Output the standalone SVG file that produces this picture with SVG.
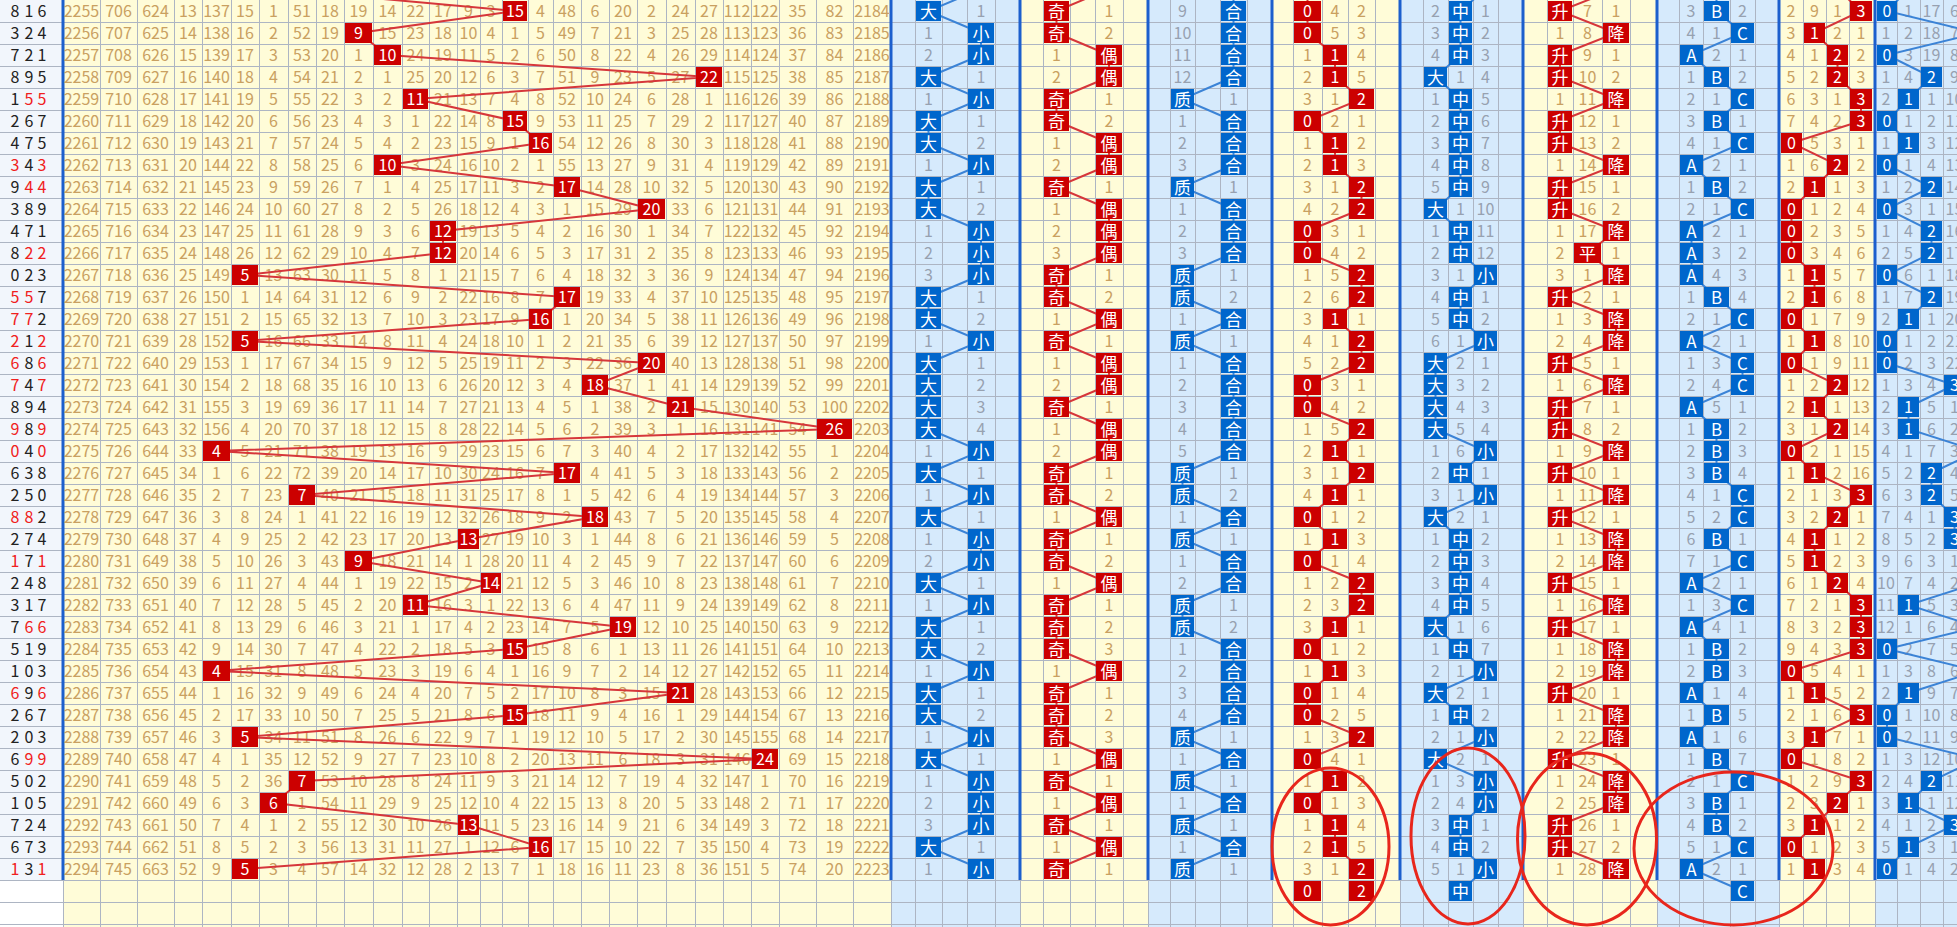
<svg xmlns="http://www.w3.org/2000/svg" width="1957" height="927" viewBox="0 0 1957 927">
<style>
.f{font-family:"Noto Sans CJK SC","Noto Sans",sans-serif;font-size:16px;text-anchor:middle}
.tn{fill:#c9a061}
.gy{fill:#97a1b0}
.k{fill:#222}
.rd{fill:#f02020}
.rl{fill:none;stroke:#d6363a;stroke-width:2}
.bl{fill:none;stroke:#3b83d6;stroke-width:2}
.gl{fill:none;stroke:#adb5c3;stroke-width:1}
.sp{fill:none;stroke:#1c5fcd;stroke-width:3}
.ci{fill:none;stroke:#e8261c;stroke-width:3}
</style>
<defs>
<g id="s4"><rect x="203" y="1" width="27" height="20" fill="#c00"/><text x="216.5" y="17">4</text></g>
<g id="s5"><rect x="232" y="1" width="26" height="20" fill="#c00"/><text x="245" y="17">5</text></g>
<g id="s6"><rect x="260" y="1" width="27" height="20" fill="#c00"/><text x="273.5" y="17">6</text></g>
<g id="s7"><rect x="289" y="1" width="26" height="20" fill="#c00"/><text x="302" y="17">7</text></g>
<g id="s9"><rect x="345" y="1" width="27" height="20" fill="#c00"/><text x="358.5" y="17">9</text></g>
<g id="s10"><rect x="374" y="1" width="27" height="20" fill="#c00"/><text x="387.5" y="17">10</text></g>
<g id="s11"><rect x="403" y="1" width="25" height="20" fill="#c00"/><text x="415.5" y="17">11</text></g>
<g id="s12"><rect x="430" y="1" width="26" height="20" fill="#c00"/><text x="443" y="17">12</text></g>
<g id="s13"><rect x="458" y="1" width="21" height="20" fill="#c00"/><text x="468.5" y="17">13</text></g>
<g id="s14"><rect x="481" y="1" width="20" height="20" fill="#c00"/><text x="491" y="17">14</text></g>
<g id="s15"><rect x="503" y="1" width="24" height="20" fill="#c00"/><text x="515" y="17">15</text></g>
<g id="s16"><rect x="529" y="1" width="23" height="20" fill="#c00"/><text x="540.5" y="17">16</text></g>
<g id="s17"><rect x="554" y="1" width="26" height="20" fill="#c00"/><text x="567" y="17">17</text></g>
<g id="s18"><rect x="582" y="1" width="26" height="20" fill="#c00"/><text x="595" y="17">18</text></g>
<g id="s19"><rect x="610" y="1" width="26" height="20" fill="#c00"/><text x="623" y="17">19</text></g>
<g id="s20"><rect x="638" y="1" width="27" height="20" fill="#c00"/><text x="651.5" y="17">20</text></g>
<g id="s21"><rect x="667" y="1" width="27" height="20" fill="#c00"/><text x="680.5" y="17">21</text></g>
<g id="s22"><rect x="696" y="1" width="26" height="20" fill="#c00"/><text x="709" y="17">22</text></g>
<g id="s24"><rect x="752" y="1" width="26" height="20" fill="#c00"/><text x="765" y="17">24</text></g>
<g id="s26"><rect x="817" y="1" width="35" height="20" fill="#c00"/><text x="834.5" y="17">26</text></g>
<g id="dD"><rect x="916" y="1" width="25" height="20" fill="#0066cc"/><text x="928.5" y="17.5" font-size="17">大</text></g>
<g id="dX"><rect x="968" y="1" width="26" height="20" fill="#0066cc"/><text x="981" y="17.5" font-size="17">小</text></g>
<g id="jJ"><rect x="1044" y="1" width="25" height="20" fill="#c00"/><text x="1056.5" y="17.5" font-size="17">奇</text></g>
<g id="jO"><rect x="1096" y="1" width="26" height="20" fill="#c00"/><text x="1109" y="17.5" font-size="17">偶</text></g>
<g id="zZ"><rect x="1171" y="1" width="23" height="20" fill="#0066cc"/><text x="1182.5" y="17.5" font-size="17">质</text></g>
<g id="zH"><rect x="1221" y="1" width="25" height="20" fill="#0066cc"/><text x="1233.5" y="17.5" font-size="17">合</text></g>
<g id="m30"><rect x="1294" y="1" width="27" height="20" fill="#c00"/><text x="1307.5" y="17">0</text></g>
<g id="m31"><rect x="1323" y="1" width="24" height="20" fill="#c00"/><text x="1335" y="17">1</text></g>
<g id="m32"><rect x="1349" y="1" width="25" height="20" fill="#c00"/><text x="1361.5" y="17">2</text></g>
<g id="qD"><rect x="1424" y="1" width="23" height="20" fill="#0066cc"/><text x="1435.5" y="17.5" font-size="17">大</text></g>
<g id="qZ"><rect x="1449" y="1" width="23" height="20" fill="#0066cc"/><text x="1460.5" y="17.5" font-size="17">中</text></g>
<g id="qX"><rect x="1474" y="1" width="23" height="20" fill="#0066cc"/><text x="1485.5" y="17.5" font-size="17">小</text></g>
<g id="pS"><rect x="1548" y="1" width="24" height="20" fill="#c00"/><text x="1560" y="17.5" font-size="17">升</text></g>
<g id="pP"><rect x="1574" y="1" width="27" height="20" fill="#c00"/><text x="1587.5" y="17.5" font-size="17">平</text></g>
<g id="pJ"><rect x="1603" y="1" width="26" height="20" fill="#c00"/><text x="1616" y="17.5" font-size="17">降</text></g>
<g id="aA"><rect x="1680" y="1" width="23" height="20" fill="#0066cc"/><text x="1691.5" y="17.5" font-size="17">A</text></g>
<g id="aB"><rect x="1704" y="1" width="25" height="20" fill="#0066cc"/><text x="1716.5" y="17.5" font-size="17">B</text></g>
<g id="aC"><rect x="1731" y="1" width="23" height="20" fill="#0066cc"/><text x="1742.5" y="17.5" font-size="17">C</text></g>
<g id="m40"><rect x="1781" y="1" width="21" height="20" fill="#c00"/><text x="1791.5" y="17">0</text></g>
<g id="m41"><rect x="1804" y="1" width="21" height="20" fill="#c00"/><text x="1814.5" y="17">1</text></g>
<g id="m42"><rect x="1827" y="1" width="21" height="20" fill="#c00"/><text x="1837.5" y="17">2</text></g>
<g id="m43"><rect x="1850" y="1" width="22" height="20" fill="#c00"/><text x="1861" y="17">3</text></g>
<g id="m50"><rect x="1877" y="1" width="20" height="20" fill="#0066cc"/><text x="1887" y="17">0</text></g>
<g id="m51"><rect x="1898" y="1" width="21" height="20" fill="#0066cc"/><text x="1908.5" y="17">1</text></g>
<g id="m52"><rect x="1921" y="1" width="21" height="20" fill="#0066cc"/><text x="1931.5" y="17">2</text></g>
<g id="m53"><rect x="1944" y="1" width="21" height="20" fill="#0066cc"/><text x="1954.5" y="17">3</text></g>
</defs>
<rect width="1957" height="927" fill="#fff"/>
<g id="background">
<rect x="0" y="0" width="63" height="880" fill="#f2f6fc"/>
<rect x="63" y="0" width="828" height="927" fill="#fffcd8"/>
<rect x="891" y="0" width="129" height="927" fill="#d6eafc"/>
<rect x="1020" y="0" width="128" height="927" fill="#fffcd8"/>
<rect x="1148" y="0" width="124" height="927" fill="#d6eafc"/>
<rect x="1272" y="0" width="128" height="927" fill="#fffcd8"/>
<rect x="1400" y="0" width="123" height="927" fill="#d6eafc"/>
<rect x="1523" y="0" width="134" height="927" fill="#fffcd8"/>
<rect x="1657" y="0" width="122" height="927" fill="#d6eafc"/>
<rect x="1779" y="0" width="96" height="927" fill="#fffcd8"/>
<rect x="1875" y="0" width="82" height="927" fill="#d6eafc"/>
</g>
<g id="grid">
<path class="gl" d="M0 22.5h1957M0 44.5h1957M0 66.5h1957M0 88.5h1957M0 110.5h1957M0 132.5h1957M0 154.5h1957M0 176.5h1957M0 198.5h1957M0 220.5h1957M0 242.5h1957M0 264.5h1957M0 286.5h1957M0 308.5h1957M0 330.5h1957M0 352.5h1957M0 374.5h1957M0 396.5h1957M0 418.5h1957M0 440.5h1957M0 462.5h1957M0 484.5h1957M0 506.5h1957M0 528.5h1957M0 550.5h1957M0 572.5h1957M0 594.5h1957M0 616.5h1957M0 638.5h1957M0 660.5h1957M0 682.5h1957M0 704.5h1957M0 726.5h1957M0 748.5h1957M0 770.5h1957M0 792.5h1957M0 814.5h1957M0 836.5h1957M0 858.5h1957M0 880.5h1957M0 902.5h1957M0 924.5h1957"/>
<path class="gl" d="M63.5 0v927M100.5 0v927M137.5 0v927M174.5 0v927M202.5 0v927M231.5 0v927M259.5 0v927M288.5 0v927M316.5 0v927M344.5 0v927M373.5 0v927M402.5 0v927M429.5 0v927M457.5 0v927M480.5 0v927M502.5 0v927M528.5 0v927M553.5 0v927M581.5 0v927M609.5 0v927M637.5 0v927M666.5 0v927M695.5 0v927M723.5 0v927M751.5 0v927M779.5 0v927M816.5 0v927M853.5 0v927M891.5 0v927M915.5 0v927M942.5 0v927M967.5 0v927M995.5 0v927M1020.5 0v927M1043.5 0v927M1070.5 0v927M1095.5 0v927M1123.5 0v927M1148.5 0v927M1170.5 0v927M1195.5 0v927M1220.5 0v927M1247.5 0v927M1272.5 0v927M1293.5 0v927M1322.5 0v927M1348.5 0v927M1375.5 0v927M1400.5 0v927M1423.5 0v927M1448.5 0v927M1473.5 0v927M1498.5 0v927M1523.5 0v927M1547.5 0v927M1573.5 0v927M1602.5 0v927M1630.5 0v927M1657.5 0v927M1679.5 0v927M1703.5 0v927M1730.5 0v927M1755.5 0v927M1779.5 0v927M1803.5 0v927M1826.5 0v927M1849.5 0v927M1875.5 0v927M1897.5 0v927M1920.5 0v927M1943.5 0v927"/>
<path class="sp" d="M63 0v880M891 0v880M1020 0v880M1148 0v880M1272 0v880M1400 0v880M1523 0v880M1657 0v880M1779 0v880M1875 0v880"/>
</g>
<g id="draws" class="f k">
<text x="15 29 42" y="17">816</text>
<text x="15 29 42" y="39">324</text>
<text x="15 29 42" y="61">721</text>
<text x="15 29 42" y="83">895</text>
<text x="15 29 42" y="105">1<tspan class="rd">55</tspan></text>
<text x="15 29 42" y="127">267</text>
<text x="15 29 42" y="149">475</text>
<text x="15 29 42" y="171"><tspan class="rd">3</tspan>4<tspan class="rd">3</tspan></text>
<text x="15 29 42" y="193">9<tspan class="rd">44</tspan></text>
<text x="15 29 42" y="215">389</text>
<text x="15 29 42" y="237">471</text>
<text x="15 29 42" y="259">8<tspan class="rd">22</tspan></text>
<text x="15 29 42" y="281">023</text>
<text x="15 29 42" y="303"><tspan class="rd">55</tspan>7</text>
<text x="15 29 42" y="325"><tspan class="rd">77</tspan>2</text>
<text x="15 29 42" y="347"><tspan class="rd">2</tspan>1<tspan class="rd">2</tspan></text>
<text x="15 29 42" y="369"><tspan class="rd">6</tspan>8<tspan class="rd">6</tspan></text>
<text x="15 29 42" y="391"><tspan class="rd">7</tspan>4<tspan class="rd">7</tspan></text>
<text x="15 29 42" y="413">894</text>
<text x="15 29 42" y="435"><tspan class="rd">9</tspan>8<tspan class="rd">9</tspan></text>
<text x="15 29 42" y="457"><tspan class="rd">0</tspan>4<tspan class="rd">0</tspan></text>
<text x="15 29 42" y="479">638</text>
<text x="15 29 42" y="501">250</text>
<text x="15 29 42" y="523"><tspan class="rd">88</tspan>2</text>
<text x="15 29 42" y="545">274</text>
<text x="15 29 42" y="567"><tspan class="rd">1</tspan>7<tspan class="rd">1</tspan></text>
<text x="15 29 42" y="589">248</text>
<text x="15 29 42" y="611">317</text>
<text x="15 29 42" y="633">7<tspan class="rd">66</tspan></text>
<text x="15 29 42" y="655">519</text>
<text x="15 29 42" y="677">103</text>
<text x="15 29 42" y="699"><tspan class="rd">6</tspan>9<tspan class="rd">6</tspan></text>
<text x="15 29 42" y="721">267</text>
<text x="15 29 42" y="743">203</text>
<text x="15 29 42" y="765">6<tspan class="rd">99</tspan></text>
<text x="15 29 42" y="787">502</text>
<text x="15 29 42" y="809">105</text>
<text x="15 29 42" y="831">724</text>
<text x="15 29 42" y="853">673</text>
<text x="15 29 42" y="875"><tspan class="rd">1</tspan>3<tspan class="rd">1</tspan></text>
</g>
<g id="omissions" class="f">
<text y="17" class="tn"><tspan x="81.5">2255</tspan><tspan x="118.5">706</tspan><tspan x="155.5">624</tspan><tspan x="188">13</tspan><tspan x="216.5">137</tspan><tspan x="245">15</tspan><tspan x="273.5">1</tspan><tspan x="302">51</tspan><tspan x="330">18</tspan><tspan x="358.5">19</tspan><tspan x="387.5">14</tspan><tspan x="415.5">22</tspan><tspan x="443">17</tspan><tspan x="468.5">9</tspan><tspan x="491">3</tspan><tspan x="540.5">4</tspan><tspan x="567">48</tspan><tspan x="595">6</tspan><tspan x="623">20</tspan><tspan x="651.5">2</tspan><tspan x="680.5">24</tspan><tspan x="709">27</tspan><tspan x="737">112</tspan><tspan x="765">122</tspan><tspan x="797.5">35</tspan><tspan x="834.5">82</tspan><tspan x="872">2184</tspan><tspan x="1109">1</tspan><tspan x="1335">4</tspan><tspan x="1361.5">2</tspan><tspan x="1587.5">7</tspan><tspan x="1616">1</tspan><tspan x="1791">2</tspan><tspan x="1814.5">9</tspan><tspan x="1837.5">1</tspan></text>
<text y="17" class="gy"><tspan x="981">1</tspan><tspan x="1182.5">9</tspan><tspan x="1435.5">2</tspan><tspan x="1485.5">1</tspan><tspan x="1691">3</tspan><tspan x="1742.5">2</tspan><tspan x="1908.5">1</tspan><tspan x="1931.5">17</tspan><tspan x="1954.5">6</tspan></text>
<text y="39" class="tn"><tspan x="81.5">2256</tspan><tspan x="118.5">707</tspan><tspan x="155.5">625</tspan><tspan x="188">14</tspan><tspan x="216.5">138</tspan><tspan x="245">16</tspan><tspan x="273.5">2</tspan><tspan x="302">52</tspan><tspan x="330">19</tspan><tspan x="387.5">15</tspan><tspan x="415.5">23</tspan><tspan x="443">18</tspan><tspan x="468.5">10</tspan><tspan x="491">4</tspan><tspan x="515">1</tspan><tspan x="540.5">5</tspan><tspan x="567">49</tspan><tspan x="595">7</tspan><tspan x="623">21</tspan><tspan x="651.5">3</tspan><tspan x="680.5">25</tspan><tspan x="709">28</tspan><tspan x="737">113</tspan><tspan x="765">123</tspan><tspan x="797.5">36</tspan><tspan x="834.5">83</tspan><tspan x="872">2185</tspan><tspan x="1109">2</tspan><tspan x="1335">5</tspan><tspan x="1361.5">3</tspan><tspan x="1560">1</tspan><tspan x="1587.5">8</tspan><tspan x="1791">3</tspan><tspan x="1837.5">2</tspan><tspan x="1861">1</tspan></text>
<text y="39" class="gy"><tspan x="928.5">1</tspan><tspan x="1182.5">10</tspan><tspan x="1435.5">3</tspan><tspan x="1485.5">2</tspan><tspan x="1691">4</tspan><tspan x="1716.5">1</tspan><tspan x="1886">1</tspan><tspan x="1908.5">2</tspan><tspan x="1931.5">18</tspan><tspan x="1954.5">7</tspan></text>
<text y="61" class="tn"><tspan x="81.5">2257</tspan><tspan x="118.5">708</tspan><tspan x="155.5">626</tspan><tspan x="188">15</tspan><tspan x="216.5">139</tspan><tspan x="245">17</tspan><tspan x="273.5">3</tspan><tspan x="302">53</tspan><tspan x="330">20</tspan><tspan x="358.5">1</tspan><tspan x="415.5">24</tspan><tspan x="443">19</tspan><tspan x="468.5">11</tspan><tspan x="491">5</tspan><tspan x="515">2</tspan><tspan x="540.5">6</tspan><tspan x="567">50</tspan><tspan x="595">8</tspan><tspan x="623">22</tspan><tspan x="651.5">4</tspan><tspan x="680.5">26</tspan><tspan x="709">29</tspan><tspan x="737">114</tspan><tspan x="765">124</tspan><tspan x="797.5">37</tspan><tspan x="834.5">84</tspan><tspan x="872">2186</tspan><tspan x="1056.5">1</tspan><tspan x="1307.5">1</tspan><tspan x="1361.5">4</tspan><tspan x="1587.5">9</tspan><tspan x="1616">1</tspan><tspan x="1791">4</tspan><tspan x="1814.5">1</tspan><tspan x="1861">2</tspan></text>
<text y="61" class="gy"><tspan x="928.5">2</tspan><tspan x="1182.5">11</tspan><tspan x="1435.5">4</tspan><tspan x="1485.5">3</tspan><tspan x="1716.5">2</tspan><tspan x="1742.5">1</tspan><tspan x="1908.5">3</tspan><tspan x="1931.5">19</tspan><tspan x="1954.5">8</tspan></text>
<text y="83" class="tn"><tspan x="81.5">2258</tspan><tspan x="118.5">709</tspan><tspan x="155.5">627</tspan><tspan x="188">16</tspan><tspan x="216.5">140</tspan><tspan x="245">18</tspan><tspan x="273.5">4</tspan><tspan x="302">54</tspan><tspan x="330">21</tspan><tspan x="358.5">2</tspan><tspan x="387.5">1</tspan><tspan x="415.5">25</tspan><tspan x="443">20</tspan><tspan x="468.5">12</tspan><tspan x="491">6</tspan><tspan x="515">3</tspan><tspan x="540.5">7</tspan><tspan x="567">51</tspan><tspan x="595">9</tspan><tspan x="623">23</tspan><tspan x="651.5">5</tspan><tspan x="680.5">27</tspan><tspan x="737">115</tspan><tspan x="765">125</tspan><tspan x="797.5">38</tspan><tspan x="834.5">85</tspan><tspan x="872">2187</tspan><tspan x="1056.5">2</tspan><tspan x="1307.5">2</tspan><tspan x="1361.5">5</tspan><tspan x="1587.5">10</tspan><tspan x="1616">2</tspan><tspan x="1791">5</tspan><tspan x="1814.5">2</tspan><tspan x="1861">3</tspan></text>
<text y="83" class="gy"><tspan x="981">1</tspan><tspan x="1182.5">12</tspan><tspan x="1460.5">1</tspan><tspan x="1485.5">4</tspan><tspan x="1691">1</tspan><tspan x="1742.5">2</tspan><tspan x="1886">1</tspan><tspan x="1908.5">4</tspan><tspan x="1954.5">9</tspan></text>
<text y="105" class="tn"><tspan x="81.5">2259</tspan><tspan x="118.5">710</tspan><tspan x="155.5">628</tspan><tspan x="188">17</tspan><tspan x="216.5">141</tspan><tspan x="245">19</tspan><tspan x="273.5">5</tspan><tspan x="302">55</tspan><tspan x="330">22</tspan><tspan x="358.5">3</tspan><tspan x="387.5">2</tspan><tspan x="443">21</tspan><tspan x="468.5">13</tspan><tspan x="491">7</tspan><tspan x="515">4</tspan><tspan x="540.5">8</tspan><tspan x="567">52</tspan><tspan x="595">10</tspan><tspan x="623">24</tspan><tspan x="651.5">6</tspan><tspan x="680.5">28</tspan><tspan x="709">1</tspan><tspan x="737">116</tspan><tspan x="765">126</tspan><tspan x="797.5">39</tspan><tspan x="834.5">86</tspan><tspan x="872">2188</tspan><tspan x="1109">1</tspan><tspan x="1307.5">3</tspan><tspan x="1335">1</tspan><tspan x="1560">1</tspan><tspan x="1587.5">11</tspan><tspan x="1791">6</tspan><tspan x="1814.5">3</tspan><tspan x="1837.5">1</tspan></text>
<text y="105" class="gy"><tspan x="928.5">1</tspan><tspan x="1233.5">1</tspan><tspan x="1435.5">1</tspan><tspan x="1485.5">5</tspan><tspan x="1691">2</tspan><tspan x="1716.5">1</tspan><tspan x="1886">2</tspan><tspan x="1931.5">1</tspan><tspan x="1954.5">10</tspan></text>
<text y="127" class="tn"><tspan x="81.5">2260</tspan><tspan x="118.5">711</tspan><tspan x="155.5">629</tspan><tspan x="188">18</tspan><tspan x="216.5">142</tspan><tspan x="245">20</tspan><tspan x="273.5">6</tspan><tspan x="302">56</tspan><tspan x="330">23</tspan><tspan x="358.5">4</tspan><tspan x="387.5">3</tspan><tspan x="415.5">1</tspan><tspan x="443">22</tspan><tspan x="468.5">14</tspan><tspan x="491">8</tspan><tspan x="540.5">9</tspan><tspan x="567">53</tspan><tspan x="595">11</tspan><tspan x="623">25</tspan><tspan x="651.5">7</tspan><tspan x="680.5">29</tspan><tspan x="709">2</tspan><tspan x="737">117</tspan><tspan x="765">127</tspan><tspan x="797.5">40</tspan><tspan x="834.5">87</tspan><tspan x="872">2189</tspan><tspan x="1109">2</tspan><tspan x="1335">2</tspan><tspan x="1361.5">1</tspan><tspan x="1587.5">12</tspan><tspan x="1616">1</tspan><tspan x="1791">7</tspan><tspan x="1814.5">4</tspan><tspan x="1837.5">2</tspan></text>
<text y="127" class="gy"><tspan x="981">1</tspan><tspan x="1182.5">1</tspan><tspan x="1435.5">2</tspan><tspan x="1485.5">6</tspan><tspan x="1691">3</tspan><tspan x="1742.5">1</tspan><tspan x="1908.5">1</tspan><tspan x="1931.5">2</tspan><tspan x="1954.5">11</tspan></text>
<text y="149" class="tn"><tspan x="81.5">2261</tspan><tspan x="118.5">712</tspan><tspan x="155.5">630</tspan><tspan x="188">19</tspan><tspan x="216.5">143</tspan><tspan x="245">21</tspan><tspan x="273.5">7</tspan><tspan x="302">57</tspan><tspan x="330">24</tspan><tspan x="358.5">5</tspan><tspan x="387.5">4</tspan><tspan x="415.5">2</tspan><tspan x="443">23</tspan><tspan x="468.5">15</tspan><tspan x="491">9</tspan><tspan x="515">1</tspan><tspan x="567">54</tspan><tspan x="595">12</tspan><tspan x="623">26</tspan><tspan x="651.5">8</tspan><tspan x="680.5">30</tspan><tspan x="709">3</tspan><tspan x="737">118</tspan><tspan x="765">128</tspan><tspan x="797.5">41</tspan><tspan x="834.5">88</tspan><tspan x="872">2190</tspan><tspan x="1056.5">1</tspan><tspan x="1307.5">1</tspan><tspan x="1361.5">2</tspan><tspan x="1587.5">13</tspan><tspan x="1616">2</tspan><tspan x="1814.5">5</tspan><tspan x="1837.5">3</tspan><tspan x="1861">1</tspan></text>
<text y="149" class="gy"><tspan x="981">2</tspan><tspan x="1182.5">2</tspan><tspan x="1435.5">3</tspan><tspan x="1485.5">7</tspan><tspan x="1691">4</tspan><tspan x="1716.5">1</tspan><tspan x="1886">1</tspan><tspan x="1931.5">3</tspan><tspan x="1954.5">12</tspan></text>
<text y="171" class="tn"><tspan x="81.5">2262</tspan><tspan x="118.5">713</tspan><tspan x="155.5">631</tspan><tspan x="188">20</tspan><tspan x="216.5">144</tspan><tspan x="245">22</tspan><tspan x="273.5">8</tspan><tspan x="302">58</tspan><tspan x="330">25</tspan><tspan x="358.5">6</tspan><tspan x="415.5">3</tspan><tspan x="443">24</tspan><tspan x="468.5">16</tspan><tspan x="491">10</tspan><tspan x="515">2</tspan><tspan x="540.5">1</tspan><tspan x="567">55</tspan><tspan x="595">13</tspan><tspan x="623">27</tspan><tspan x="651.5">9</tspan><tspan x="680.5">31</tspan><tspan x="709">4</tspan><tspan x="737">119</tspan><tspan x="765">129</tspan><tspan x="797.5">42</tspan><tspan x="834.5">89</tspan><tspan x="872">2191</tspan><tspan x="1056.5">2</tspan><tspan x="1307.5">2</tspan><tspan x="1361.5">3</tspan><tspan x="1560">1</tspan><tspan x="1587.5">14</tspan><tspan x="1791">1</tspan><tspan x="1814.5">6</tspan><tspan x="1861">2</tspan></text>
<text y="171" class="gy"><tspan x="928.5">1</tspan><tspan x="1182.5">3</tspan><tspan x="1435.5">4</tspan><tspan x="1485.5">8</tspan><tspan x="1716.5">2</tspan><tspan x="1742.5">1</tspan><tspan x="1908.5">1</tspan><tspan x="1931.5">4</tspan><tspan x="1954.5">13</tspan></text>
<text y="193" class="tn"><tspan x="81.5">2263</tspan><tspan x="118.5">714</tspan><tspan x="155.5">632</tspan><tspan x="188">21</tspan><tspan x="216.5">145</tspan><tspan x="245">23</tspan><tspan x="273.5">9</tspan><tspan x="302">59</tspan><tspan x="330">26</tspan><tspan x="358.5">7</tspan><tspan x="387.5">1</tspan><tspan x="415.5">4</tspan><tspan x="443">25</tspan><tspan x="468.5">17</tspan><tspan x="491">11</tspan><tspan x="515">3</tspan><tspan x="540.5">2</tspan><tspan x="595">14</tspan><tspan x="623">28</tspan><tspan x="651.5">10</tspan><tspan x="680.5">32</tspan><tspan x="709">5</tspan><tspan x="737">120</tspan><tspan x="765">130</tspan><tspan x="797.5">43</tspan><tspan x="834.5">90</tspan><tspan x="872">2192</tspan><tspan x="1109">1</tspan><tspan x="1307.5">3</tspan><tspan x="1335">1</tspan><tspan x="1587.5">15</tspan><tspan x="1616">1</tspan><tspan x="1791">2</tspan><tspan x="1837.5">1</tspan><tspan x="1861">3</tspan></text>
<text y="193" class="gy"><tspan x="981">1</tspan><tspan x="1233.5">1</tspan><tspan x="1435.5">5</tspan><tspan x="1485.5">9</tspan><tspan x="1691">1</tspan><tspan x="1742.5">2</tspan><tspan x="1886">1</tspan><tspan x="1908.5">2</tspan><tspan x="1954.5">14</tspan></text>
<text y="215" class="tn"><tspan x="81.5">2264</tspan><tspan x="118.5">715</tspan><tspan x="155.5">633</tspan><tspan x="188">22</tspan><tspan x="216.5">146</tspan><tspan x="245">24</tspan><tspan x="273.5">10</tspan><tspan x="302">60</tspan><tspan x="330">27</tspan><tspan x="358.5">8</tspan><tspan x="387.5">2</tspan><tspan x="415.5">5</tspan><tspan x="443">26</tspan><tspan x="468.5">18</tspan><tspan x="491">12</tspan><tspan x="515">4</tspan><tspan x="540.5">3</tspan><tspan x="567">1</tspan><tspan x="595">15</tspan><tspan x="623">29</tspan><tspan x="680.5">33</tspan><tspan x="709">6</tspan><tspan x="737">121</tspan><tspan x="765">131</tspan><tspan x="797.5">44</tspan><tspan x="834.5">91</tspan><tspan x="872">2193</tspan><tspan x="1056.5">1</tspan><tspan x="1307.5">4</tspan><tspan x="1335">2</tspan><tspan x="1587.5">16</tspan><tspan x="1616">2</tspan><tspan x="1814.5">1</tspan><tspan x="1837.5">2</tspan><tspan x="1861">4</tspan></text>
<text y="215" class="gy"><tspan x="981">2</tspan><tspan x="1182.5">1</tspan><tspan x="1460.5">1</tspan><tspan x="1485.5">10</tspan><tspan x="1691">2</tspan><tspan x="1716.5">1</tspan><tspan x="1908.5">3</tspan><tspan x="1931.5">1</tspan><tspan x="1954.5">15</tspan></text>
<text y="237" class="tn"><tspan x="81.5">2265</tspan><tspan x="118.5">716</tspan><tspan x="155.5">634</tspan><tspan x="188">23</tspan><tspan x="216.5">147</tspan><tspan x="245">25</tspan><tspan x="273.5">11</tspan><tspan x="302">61</tspan><tspan x="330">28</tspan><tspan x="358.5">9</tspan><tspan x="387.5">3</tspan><tspan x="415.5">6</tspan><tspan x="468.5">19</tspan><tspan x="491">13</tspan><tspan x="515">5</tspan><tspan x="540.5">4</tspan><tspan x="567">2</tspan><tspan x="595">16</tspan><tspan x="623">30</tspan><tspan x="651.5">1</tspan><tspan x="680.5">34</tspan><tspan x="709">7</tspan><tspan x="737">122</tspan><tspan x="765">132</tspan><tspan x="797.5">45</tspan><tspan x="834.5">92</tspan><tspan x="872">2194</tspan><tspan x="1056.5">2</tspan><tspan x="1335">3</tspan><tspan x="1361.5">1</tspan><tspan x="1560">1</tspan><tspan x="1587.5">17</tspan><tspan x="1814.5">2</tspan><tspan x="1837.5">3</tspan><tspan x="1861">5</tspan></text>
<text y="237" class="gy"><tspan x="928.5">1</tspan><tspan x="1182.5">2</tspan><tspan x="1435.5">1</tspan><tspan x="1485.5">11</tspan><tspan x="1716.5">2</tspan><tspan x="1742.5">1</tspan><tspan x="1886">1</tspan><tspan x="1908.5">4</tspan><tspan x="1954.5">16</tspan></text>
<text y="259" class="tn"><tspan x="81.5">2266</tspan><tspan x="118.5">717</tspan><tspan x="155.5">635</tspan><tspan x="188">24</tspan><tspan x="216.5">148</tspan><tspan x="245">26</tspan><tspan x="273.5">12</tspan><tspan x="302">62</tspan><tspan x="330">29</tspan><tspan x="358.5">10</tspan><tspan x="387.5">4</tspan><tspan x="415.5">7</tspan><tspan x="468.5">20</tspan><tspan x="491">14</tspan><tspan x="515">6</tspan><tspan x="540.5">5</tspan><tspan x="567">3</tspan><tspan x="595">17</tspan><tspan x="623">31</tspan><tspan x="651.5">2</tspan><tspan x="680.5">35</tspan><tspan x="709">8</tspan><tspan x="737">123</tspan><tspan x="765">133</tspan><tspan x="797.5">46</tspan><tspan x="834.5">93</tspan><tspan x="872">2195</tspan><tspan x="1056.5">3</tspan><tspan x="1335">4</tspan><tspan x="1361.5">2</tspan><tspan x="1560">2</tspan><tspan x="1616">1</tspan><tspan x="1814.5">3</tspan><tspan x="1837.5">4</tspan><tspan x="1861">6</tspan></text>
<text y="259" class="gy"><tspan x="928.5">2</tspan><tspan x="1182.5">3</tspan><tspan x="1435.5">2</tspan><tspan x="1485.5">12</tspan><tspan x="1716.5">3</tspan><tspan x="1742.5">2</tspan><tspan x="1886">2</tspan><tspan x="1908.5">5</tspan><tspan x="1954.5">17</tspan></text>
<text y="281" class="tn"><tspan x="81.5">2267</tspan><tspan x="118.5">718</tspan><tspan x="155.5">636</tspan><tspan x="188">25</tspan><tspan x="216.5">149</tspan><tspan x="273.5">13</tspan><tspan x="302">63</tspan><tspan x="330">30</tspan><tspan x="358.5">11</tspan><tspan x="387.5">5</tspan><tspan x="415.5">8</tspan><tspan x="443">1</tspan><tspan x="468.5">21</tspan><tspan x="491">15</tspan><tspan x="515">7</tspan><tspan x="540.5">6</tspan><tspan x="567">4</tspan><tspan x="595">18</tspan><tspan x="623">32</tspan><tspan x="651.5">3</tspan><tspan x="680.5">36</tspan><tspan x="709">9</tspan><tspan x="737">124</tspan><tspan x="765">134</tspan><tspan x="797.5">47</tspan><tspan x="834.5">94</tspan><tspan x="872">2196</tspan><tspan x="1109">1</tspan><tspan x="1307.5">1</tspan><tspan x="1335">5</tspan><tspan x="1560">3</tspan><tspan x="1587.5">1</tspan><tspan x="1791">1</tspan><tspan x="1837.5">5</tspan><tspan x="1861">7</tspan></text>
<text y="281" class="gy"><tspan x="928.5">3</tspan><tspan x="1233.5">1</tspan><tspan x="1435.5">3</tspan><tspan x="1460.5">1</tspan><tspan x="1716.5">4</tspan><tspan x="1742.5">3</tspan><tspan x="1908.5">6</tspan><tspan x="1931.5">1</tspan><tspan x="1954.5">18</tspan></text>
<text y="303" class="tn"><tspan x="81.5">2268</tspan><tspan x="118.5">719</tspan><tspan x="155.5">637</tspan><tspan x="188">26</tspan><tspan x="216.5">150</tspan><tspan x="245">1</tspan><tspan x="273.5">14</tspan><tspan x="302">64</tspan><tspan x="330">31</tspan><tspan x="358.5">12</tspan><tspan x="387.5">6</tspan><tspan x="415.5">9</tspan><tspan x="443">2</tspan><tspan x="468.5">22</tspan><tspan x="491">16</tspan><tspan x="515">8</tspan><tspan x="540.5">7</tspan><tspan x="595">19</tspan><tspan x="623">33</tspan><tspan x="651.5">4</tspan><tspan x="680.5">37</tspan><tspan x="709">10</tspan><tspan x="737">125</tspan><tspan x="765">135</tspan><tspan x="797.5">48</tspan><tspan x="834.5">95</tspan><tspan x="872">2197</tspan><tspan x="1109">2</tspan><tspan x="1307.5">2</tspan><tspan x="1335">6</tspan><tspan x="1587.5">2</tspan><tspan x="1616">1</tspan><tspan x="1791">2</tspan><tspan x="1837.5">6</tspan><tspan x="1861">8</tspan></text>
<text y="303" class="gy"><tspan x="981">1</tspan><tspan x="1233.5">2</tspan><tspan x="1435.5">4</tspan><tspan x="1485.5">1</tspan><tspan x="1691">1</tspan><tspan x="1742.5">4</tspan><tspan x="1886">1</tspan><tspan x="1908.5">7</tspan><tspan x="1954.5">19</tspan></text>
<text y="325" class="tn"><tspan x="81.5">2269</tspan><tspan x="118.5">720</tspan><tspan x="155.5">638</tspan><tspan x="188">27</tspan><tspan x="216.5">151</tspan><tspan x="245">2</tspan><tspan x="273.5">15</tspan><tspan x="302">65</tspan><tspan x="330">32</tspan><tspan x="358.5">13</tspan><tspan x="387.5">7</tspan><tspan x="415.5">10</tspan><tspan x="443">3</tspan><tspan x="468.5">23</tspan><tspan x="491">17</tspan><tspan x="515">9</tspan><tspan x="567">1</tspan><tspan x="595">20</tspan><tspan x="623">34</tspan><tspan x="651.5">5</tspan><tspan x="680.5">38</tspan><tspan x="709">11</tspan><tspan x="737">126</tspan><tspan x="765">136</tspan><tspan x="797.5">49</tspan><tspan x="834.5">96</tspan><tspan x="872">2198</tspan><tspan x="1056.5">1</tspan><tspan x="1307.5">3</tspan><tspan x="1361.5">1</tspan><tspan x="1560">1</tspan><tspan x="1587.5">3</tspan><tspan x="1814.5">1</tspan><tspan x="1837.5">7</tspan><tspan x="1861">9</tspan></text>
<text y="325" class="gy"><tspan x="981">2</tspan><tspan x="1182.5">1</tspan><tspan x="1435.5">5</tspan><tspan x="1485.5">2</tspan><tspan x="1691">2</tspan><tspan x="1716.5">1</tspan><tspan x="1886">2</tspan><tspan x="1931.5">1</tspan><tspan x="1954.5">20</tspan></text>
<text y="347" class="tn"><tspan x="81.5">2270</tspan><tspan x="118.5">721</tspan><tspan x="155.5">639</tspan><tspan x="188">28</tspan><tspan x="216.5">152</tspan><tspan x="273.5">16</tspan><tspan x="302">66</tspan><tspan x="330">33</tspan><tspan x="358.5">14</tspan><tspan x="387.5">8</tspan><tspan x="415.5">11</tspan><tspan x="443">4</tspan><tspan x="468.5">24</tspan><tspan x="491">18</tspan><tspan x="515">10</tspan><tspan x="540.5">1</tspan><tspan x="567">2</tspan><tspan x="595">21</tspan><tspan x="623">35</tspan><tspan x="651.5">6</tspan><tspan x="680.5">39</tspan><tspan x="709">12</tspan><tspan x="737">127</tspan><tspan x="765">137</tspan><tspan x="797.5">50</tspan><tspan x="834.5">97</tspan><tspan x="872">2199</tspan><tspan x="1109">1</tspan><tspan x="1307.5">4</tspan><tspan x="1335">1</tspan><tspan x="1560">2</tspan><tspan x="1587.5">4</tspan><tspan x="1791">1</tspan><tspan x="1837.5">8</tspan><tspan x="1861">10</tspan></text>
<text y="347" class="gy"><tspan x="928.5">1</tspan><tspan x="1233.5">1</tspan><tspan x="1435.5">6</tspan><tspan x="1460.5">1</tspan><tspan x="1716.5">2</tspan><tspan x="1742.5">1</tspan><tspan x="1908.5">1</tspan><tspan x="1931.5">2</tspan><tspan x="1954.5">21</tspan></text>
<text y="369" class="tn"><tspan x="81.5">2271</tspan><tspan x="118.5">722</tspan><tspan x="155.5">640</tspan><tspan x="188">29</tspan><tspan x="216.5">153</tspan><tspan x="245">1</tspan><tspan x="273.5">17</tspan><tspan x="302">67</tspan><tspan x="330">34</tspan><tspan x="358.5">15</tspan><tspan x="387.5">9</tspan><tspan x="415.5">12</tspan><tspan x="443">5</tspan><tspan x="468.5">25</tspan><tspan x="491">19</tspan><tspan x="515">11</tspan><tspan x="540.5">2</tspan><tspan x="567">3</tspan><tspan x="595">22</tspan><tspan x="623">36</tspan><tspan x="680.5">40</tspan><tspan x="709">13</tspan><tspan x="737">128</tspan><tspan x="765">138</tspan><tspan x="797.5">51</tspan><tspan x="834.5">98</tspan><tspan x="872">2200</tspan><tspan x="1056.5">1</tspan><tspan x="1307.5">5</tspan><tspan x="1335">2</tspan><tspan x="1587.5">5</tspan><tspan x="1616">1</tspan><tspan x="1814.5">1</tspan><tspan x="1837.5">9</tspan><tspan x="1861">11</tspan></text>
<text y="369" class="gy"><tspan x="981">1</tspan><tspan x="1182.5">1</tspan><tspan x="1460.5">2</tspan><tspan x="1485.5">1</tspan><tspan x="1691">1</tspan><tspan x="1716.5">3</tspan><tspan x="1908.5">2</tspan><tspan x="1931.5">3</tspan><tspan x="1954.5">22</tspan></text>
<text y="391" class="tn"><tspan x="81.5">2272</tspan><tspan x="118.5">723</tspan><tspan x="155.5">641</tspan><tspan x="188">30</tspan><tspan x="216.5">154</tspan><tspan x="245">2</tspan><tspan x="273.5">18</tspan><tspan x="302">68</tspan><tspan x="330">35</tspan><tspan x="358.5">16</tspan><tspan x="387.5">10</tspan><tspan x="415.5">13</tspan><tspan x="443">6</tspan><tspan x="468.5">26</tspan><tspan x="491">20</tspan><tspan x="515">12</tspan><tspan x="540.5">3</tspan><tspan x="567">4</tspan><tspan x="623">37</tspan><tspan x="651.5">1</tspan><tspan x="680.5">41</tspan><tspan x="709">14</tspan><tspan x="737">129</tspan><tspan x="765">139</tspan><tspan x="797.5">52</tspan><tspan x="834.5">99</tspan><tspan x="872">2201</tspan><tspan x="1056.5">2</tspan><tspan x="1335">3</tspan><tspan x="1361.5">1</tspan><tspan x="1560">1</tspan><tspan x="1587.5">6</tspan><tspan x="1791">1</tspan><tspan x="1814.5">2</tspan><tspan x="1861">12</tspan></text>
<text y="391" class="gy"><tspan x="981">2</tspan><tspan x="1182.5">2</tspan><tspan x="1460.5">3</tspan><tspan x="1485.5">2</tspan><tspan x="1691">2</tspan><tspan x="1716.5">4</tspan><tspan x="1886">1</tspan><tspan x="1908.5">3</tspan><tspan x="1931.5">4</tspan></text>
<text y="413" class="tn"><tspan x="81.5">2273</tspan><tspan x="118.5">724</tspan><tspan x="155.5">642</tspan><tspan x="188">31</tspan><tspan x="216.5">155</tspan><tspan x="245">3</tspan><tspan x="273.5">19</tspan><tspan x="302">69</tspan><tspan x="330">36</tspan><tspan x="358.5">17</tspan><tspan x="387.5">11</tspan><tspan x="415.5">14</tspan><tspan x="443">7</tspan><tspan x="468.5">27</tspan><tspan x="491">21</tspan><tspan x="515">13</tspan><tspan x="540.5">4</tspan><tspan x="567">5</tspan><tspan x="595">1</tspan><tspan x="623">38</tspan><tspan x="651.5">2</tspan><tspan x="709">15</tspan><tspan x="737">130</tspan><tspan x="765">140</tspan><tspan x="797.5">53</tspan><tspan x="834.5">100</tspan><tspan x="872">2202</tspan><tspan x="1109">1</tspan><tspan x="1335">4</tspan><tspan x="1361.5">2</tspan><tspan x="1587.5">7</tspan><tspan x="1616">1</tspan><tspan x="1791">2</tspan><tspan x="1837.5">1</tspan><tspan x="1861">13</tspan></text>
<text y="413" class="gy"><tspan x="981">3</tspan><tspan x="1182.5">3</tspan><tspan x="1460.5">4</tspan><tspan x="1485.5">3</tspan><tspan x="1716.5">5</tspan><tspan x="1742.5">1</tspan><tspan x="1886">2</tspan><tspan x="1931.5">5</tspan><tspan x="1954.5">1</tspan></text>
<text y="435" class="tn"><tspan x="81.5">2274</tspan><tspan x="118.5">725</tspan><tspan x="155.5">643</tspan><tspan x="188">32</tspan><tspan x="216.5">156</tspan><tspan x="245">4</tspan><tspan x="273.5">20</tspan><tspan x="302">70</tspan><tspan x="330">37</tspan><tspan x="358.5">18</tspan><tspan x="387.5">12</tspan><tspan x="415.5">15</tspan><tspan x="443">8</tspan><tspan x="468.5">28</tspan><tspan x="491">22</tspan><tspan x="515">14</tspan><tspan x="540.5">5</tspan><tspan x="567">6</tspan><tspan x="595">2</tspan><tspan x="623">39</tspan><tspan x="651.5">3</tspan><tspan x="680.5">1</tspan><tspan x="709">16</tspan><tspan x="737">131</tspan><tspan x="765">141</tspan><tspan x="797.5">54</tspan><tspan x="872">2203</tspan><tspan x="1056.5">1</tspan><tspan x="1307.5">1</tspan><tspan x="1335">5</tspan><tspan x="1587.5">8</tspan><tspan x="1616">2</tspan><tspan x="1791">3</tspan><tspan x="1814.5">1</tspan><tspan x="1861">14</tspan></text>
<text y="435" class="gy"><tspan x="981">4</tspan><tspan x="1182.5">4</tspan><tspan x="1460.5">5</tspan><tspan x="1485.5">4</tspan><tspan x="1691">1</tspan><tspan x="1742.5">2</tspan><tspan x="1886">3</tspan><tspan x="1931.5">6</tspan><tspan x="1954.5">2</tspan></text>
<text y="457" class="tn"><tspan x="81.5">2275</tspan><tspan x="118.5">726</tspan><tspan x="155.5">644</tspan><tspan x="188">33</tspan><tspan x="245">5</tspan><tspan x="273.5">21</tspan><tspan x="302">71</tspan><tspan x="330">38</tspan><tspan x="358.5">19</tspan><tspan x="387.5">13</tspan><tspan x="415.5">16</tspan><tspan x="443">9</tspan><tspan x="468.5">29</tspan><tspan x="491">23</tspan><tspan x="515">15</tspan><tspan x="540.5">6</tspan><tspan x="567">7</tspan><tspan x="595">3</tspan><tspan x="623">40</tspan><tspan x="651.5">4</tspan><tspan x="680.5">2</tspan><tspan x="709">17</tspan><tspan x="737">132</tspan><tspan x="765">142</tspan><tspan x="797.5">55</tspan><tspan x="834.5">1</tspan><tspan x="872">2204</tspan><tspan x="1056.5">2</tspan><tspan x="1307.5">2</tspan><tspan x="1361.5">1</tspan><tspan x="1560">1</tspan><tspan x="1587.5">9</tspan><tspan x="1814.5">2</tspan><tspan x="1837.5">1</tspan><tspan x="1861">15</tspan></text>
<text y="457" class="gy"><tspan x="928.5">1</tspan><tspan x="1182.5">5</tspan><tspan x="1435.5">1</tspan><tspan x="1460.5">6</tspan><tspan x="1691">2</tspan><tspan x="1742.5">3</tspan><tspan x="1886">4</tspan><tspan x="1908.5">1</tspan><tspan x="1931.5">7</tspan><tspan x="1954.5">3</tspan></text>
<text y="479" class="tn"><tspan x="81.5">2276</tspan><tspan x="118.5">727</tspan><tspan x="155.5">645</tspan><tspan x="188">34</tspan><tspan x="216.5">1</tspan><tspan x="245">6</tspan><tspan x="273.5">22</tspan><tspan x="302">72</tspan><tspan x="330">39</tspan><tspan x="358.5">20</tspan><tspan x="387.5">14</tspan><tspan x="415.5">17</tspan><tspan x="443">10</tspan><tspan x="468.5">30</tspan><tspan x="491">24</tspan><tspan x="515">16</tspan><tspan x="540.5">7</tspan><tspan x="595">4</tspan><tspan x="623">41</tspan><tspan x="651.5">5</tspan><tspan x="680.5">3</tspan><tspan x="709">18</tspan><tspan x="737">133</tspan><tspan x="765">143</tspan><tspan x="797.5">56</tspan><tspan x="834.5">2</tspan><tspan x="872">2205</tspan><tspan x="1109">1</tspan><tspan x="1307.5">3</tspan><tspan x="1335">1</tspan><tspan x="1587.5">10</tspan><tspan x="1616">1</tspan><tspan x="1791">1</tspan><tspan x="1837.5">2</tspan><tspan x="1861">16</tspan></text>
<text y="479" class="gy"><tspan x="981">1</tspan><tspan x="1233.5">1</tspan><tspan x="1435.5">2</tspan><tspan x="1485.5">1</tspan><tspan x="1691">3</tspan><tspan x="1742.5">4</tspan><tspan x="1886">5</tspan><tspan x="1908.5">2</tspan><tspan x="1954.5">4</tspan></text>
<text y="501" class="tn"><tspan x="81.5">2277</tspan><tspan x="118.5">728</tspan><tspan x="155.5">646</tspan><tspan x="188">35</tspan><tspan x="216.5">2</tspan><tspan x="245">7</tspan><tspan x="273.5">23</tspan><tspan x="330">40</tspan><tspan x="358.5">21</tspan><tspan x="387.5">15</tspan><tspan x="415.5">18</tspan><tspan x="443">11</tspan><tspan x="468.5">31</tspan><tspan x="491">25</tspan><tspan x="515">17</tspan><tspan x="540.5">8</tspan><tspan x="567">1</tspan><tspan x="595">5</tspan><tspan x="623">42</tspan><tspan x="651.5">6</tspan><tspan x="680.5">4</tspan><tspan x="709">19</tspan><tspan x="737">134</tspan><tspan x="765">144</tspan><tspan x="797.5">57</tspan><tspan x="834.5">3</tspan><tspan x="872">2206</tspan><tspan x="1109">2</tspan><tspan x="1307.5">4</tspan><tspan x="1361.5">1</tspan><tspan x="1560">1</tspan><tspan x="1587.5">11</tspan><tspan x="1791">2</tspan><tspan x="1814.5">1</tspan><tspan x="1837.5">3</tspan></text>
<text y="501" class="gy"><tspan x="928.5">1</tspan><tspan x="1233.5">2</tspan><tspan x="1435.5">3</tspan><tspan x="1460.5">1</tspan><tspan x="1691">4</tspan><tspan x="1716.5">1</tspan><tspan x="1886">6</tspan><tspan x="1908.5">3</tspan><tspan x="1954.5">5</tspan></text>
<text y="523" class="tn"><tspan x="81.5">2278</tspan><tspan x="118.5">729</tspan><tspan x="155.5">647</tspan><tspan x="188">36</tspan><tspan x="216.5">3</tspan><tspan x="245">8</tspan><tspan x="273.5">24</tspan><tspan x="302">1</tspan><tspan x="330">41</tspan><tspan x="358.5">22</tspan><tspan x="387.5">16</tspan><tspan x="415.5">19</tspan><tspan x="443">12</tspan><tspan x="468.5">32</tspan><tspan x="491">26</tspan><tspan x="515">18</tspan><tspan x="540.5">9</tspan><tspan x="567">2</tspan><tspan x="623">43</tspan><tspan x="651.5">7</tspan><tspan x="680.5">5</tspan><tspan x="709">20</tspan><tspan x="737">135</tspan><tspan x="765">145</tspan><tspan x="797.5">58</tspan><tspan x="834.5">4</tspan><tspan x="872">2207</tspan><tspan x="1056.5">1</tspan><tspan x="1335">1</tspan><tspan x="1361.5">2</tspan><tspan x="1587.5">12</tspan><tspan x="1616">1</tspan><tspan x="1791">3</tspan><tspan x="1814.5">2</tspan><tspan x="1861">1</tspan></text>
<text y="523" class="gy"><tspan x="981">1</tspan><tspan x="1182.5">1</tspan><tspan x="1460.5">2</tspan><tspan x="1485.5">1</tspan><tspan x="1691">5</tspan><tspan x="1716.5">2</tspan><tspan x="1886">7</tspan><tspan x="1908.5">4</tspan><tspan x="1931.5">1</tspan></text>
<text y="545" class="tn"><tspan x="81.5">2279</tspan><tspan x="118.5">730</tspan><tspan x="155.5">648</tspan><tspan x="188">37</tspan><tspan x="216.5">4</tspan><tspan x="245">9</tspan><tspan x="273.5">25</tspan><tspan x="302">2</tspan><tspan x="330">42</tspan><tspan x="358.5">23</tspan><tspan x="387.5">17</tspan><tspan x="415.5">20</tspan><tspan x="443">13</tspan><tspan x="491">27</tspan><tspan x="515">19</tspan><tspan x="540.5">10</tspan><tspan x="567">3</tspan><tspan x="595">1</tspan><tspan x="623">44</tspan><tspan x="651.5">8</tspan><tspan x="680.5">6</tspan><tspan x="709">21</tspan><tspan x="737">136</tspan><tspan x="765">146</tspan><tspan x="797.5">59</tspan><tspan x="834.5">5</tspan><tspan x="872">2208</tspan><tspan x="1109">1</tspan><tspan x="1307.5">1</tspan><tspan x="1361.5">3</tspan><tspan x="1560">1</tspan><tspan x="1587.5">13</tspan><tspan x="1791">4</tspan><tspan x="1837.5">1</tspan><tspan x="1861">2</tspan></text>
<text y="545" class="gy"><tspan x="928.5">1</tspan><tspan x="1233.5">1</tspan><tspan x="1435.5">1</tspan><tspan x="1485.5">2</tspan><tspan x="1691">6</tspan><tspan x="1742.5">1</tspan><tspan x="1886">8</tspan><tspan x="1908.5">5</tspan><tspan x="1931.5">2</tspan></text>
<text y="567" class="tn"><tspan x="81.5">2280</tspan><tspan x="118.5">731</tspan><tspan x="155.5">649</tspan><tspan x="188">38</tspan><tspan x="216.5">5</tspan><tspan x="245">10</tspan><tspan x="273.5">26</tspan><tspan x="302">3</tspan><tspan x="330">43</tspan><tspan x="387.5">18</tspan><tspan x="415.5">21</tspan><tspan x="443">14</tspan><tspan x="468.5">1</tspan><tspan x="491">28</tspan><tspan x="515">20</tspan><tspan x="540.5">11</tspan><tspan x="567">4</tspan><tspan x="595">2</tspan><tspan x="623">45</tspan><tspan x="651.5">9</tspan><tspan x="680.5">7</tspan><tspan x="709">22</tspan><tspan x="737">137</tspan><tspan x="765">147</tspan><tspan x="797.5">60</tspan><tspan x="834.5">6</tspan><tspan x="872">2209</tspan><tspan x="1109">2</tspan><tspan x="1335">1</tspan><tspan x="1361.5">4</tspan><tspan x="1560">2</tspan><tspan x="1587.5">14</tspan><tspan x="1791">5</tspan><tspan x="1837.5">2</tspan><tspan x="1861">3</tspan></text>
<text y="567" class="gy"><tspan x="928.5">2</tspan><tspan x="1182.5">1</tspan><tspan x="1435.5">2</tspan><tspan x="1485.5">3</tspan><tspan x="1691">7</tspan><tspan x="1716.5">1</tspan><tspan x="1886">9</tspan><tspan x="1908.5">6</tspan><tspan x="1931.5">3</tspan><tspan x="1954.5">1</tspan></text>
<text y="589" class="tn"><tspan x="81.5">2281</tspan><tspan x="118.5">732</tspan><tspan x="155.5">650</tspan><tspan x="188">39</tspan><tspan x="216.5">6</tspan><tspan x="245">11</tspan><tspan x="273.5">27</tspan><tspan x="302">4</tspan><tspan x="330">44</tspan><tspan x="358.5">1</tspan><tspan x="387.5">19</tspan><tspan x="415.5">22</tspan><tspan x="443">15</tspan><tspan x="468.5">2</tspan><tspan x="515">21</tspan><tspan x="540.5">12</tspan><tspan x="567">5</tspan><tspan x="595">3</tspan><tspan x="623">46</tspan><tspan x="651.5">10</tspan><tspan x="680.5">8</tspan><tspan x="709">23</tspan><tspan x="737">138</tspan><tspan x="765">148</tspan><tspan x="797.5">61</tspan><tspan x="834.5">7</tspan><tspan x="872">2210</tspan><tspan x="1056.5">1</tspan><tspan x="1307.5">1</tspan><tspan x="1335">2</tspan><tspan x="1587.5">15</tspan><tspan x="1616">1</tspan><tspan x="1791">6</tspan><tspan x="1814.5">1</tspan><tspan x="1861">4</tspan></text>
<text y="589" class="gy"><tspan x="981">1</tspan><tspan x="1182.5">2</tspan><tspan x="1435.5">3</tspan><tspan x="1485.5">4</tspan><tspan x="1716.5">2</tspan><tspan x="1742.5">1</tspan><tspan x="1886">10</tspan><tspan x="1908.5">7</tspan><tspan x="1931.5">4</tspan><tspan x="1954.5">2</tspan></text>
<text y="611" class="tn"><tspan x="81.5">2282</tspan><tspan x="118.5">733</tspan><tspan x="155.5">651</tspan><tspan x="188">40</tspan><tspan x="216.5">7</tspan><tspan x="245">12</tspan><tspan x="273.5">28</tspan><tspan x="302">5</tspan><tspan x="330">45</tspan><tspan x="358.5">2</tspan><tspan x="387.5">20</tspan><tspan x="443">16</tspan><tspan x="468.5">3</tspan><tspan x="491">1</tspan><tspan x="515">22</tspan><tspan x="540.5">13</tspan><tspan x="567">6</tspan><tspan x="595">4</tspan><tspan x="623">47</tspan><tspan x="651.5">11</tspan><tspan x="680.5">9</tspan><tspan x="709">24</tspan><tspan x="737">139</tspan><tspan x="765">149</tspan><tspan x="797.5">62</tspan><tspan x="834.5">8</tspan><tspan x="872">2211</tspan><tspan x="1109">1</tspan><tspan x="1307.5">2</tspan><tspan x="1335">3</tspan><tspan x="1560">1</tspan><tspan x="1587.5">16</tspan><tspan x="1791">7</tspan><tspan x="1814.5">2</tspan><tspan x="1837.5">1</tspan></text>
<text y="611" class="gy"><tspan x="928.5">1</tspan><tspan x="1233.5">1</tspan><tspan x="1435.5">4</tspan><tspan x="1485.5">5</tspan><tspan x="1691">1</tspan><tspan x="1716.5">3</tspan><tspan x="1886">11</tspan><tspan x="1931.5">5</tspan><tspan x="1954.5">3</tspan></text>
<text y="633" class="tn"><tspan x="81.5">2283</tspan><tspan x="118.5">734</tspan><tspan x="155.5">652</tspan><tspan x="188">41</tspan><tspan x="216.5">8</tspan><tspan x="245">13</tspan><tspan x="273.5">29</tspan><tspan x="302">6</tspan><tspan x="330">46</tspan><tspan x="358.5">3</tspan><tspan x="387.5">21</tspan><tspan x="415.5">1</tspan><tspan x="443">17</tspan><tspan x="468.5">4</tspan><tspan x="491">2</tspan><tspan x="515">23</tspan><tspan x="540.5">14</tspan><tspan x="567">7</tspan><tspan x="595">5</tspan><tspan x="651.5">12</tspan><tspan x="680.5">10</tspan><tspan x="709">25</tspan><tspan x="737">140</tspan><tspan x="765">150</tspan><tspan x="797.5">63</tspan><tspan x="834.5">9</tspan><tspan x="872">2212</tspan><tspan x="1109">2</tspan><tspan x="1307.5">3</tspan><tspan x="1361.5">1</tspan><tspan x="1587.5">17</tspan><tspan x="1616">1</tspan><tspan x="1791">8</tspan><tspan x="1814.5">3</tspan><tspan x="1837.5">2</tspan></text>
<text y="633" class="gy"><tspan x="981">1</tspan><tspan x="1233.5">2</tspan><tspan x="1460.5">1</tspan><tspan x="1485.5">6</tspan><tspan x="1716.5">4</tspan><tspan x="1742.5">1</tspan><tspan x="1886">12</tspan><tspan x="1908.5">1</tspan><tspan x="1931.5">6</tspan><tspan x="1954.5">4</tspan></text>
<text y="655" class="tn"><tspan x="81.5">2284</tspan><tspan x="118.5">735</tspan><tspan x="155.5">653</tspan><tspan x="188">42</tspan><tspan x="216.5">9</tspan><tspan x="245">14</tspan><tspan x="273.5">30</tspan><tspan x="302">7</tspan><tspan x="330">47</tspan><tspan x="358.5">4</tspan><tspan x="387.5">22</tspan><tspan x="415.5">2</tspan><tspan x="443">18</tspan><tspan x="468.5">5</tspan><tspan x="491">3</tspan><tspan x="540.5">15</tspan><tspan x="567">8</tspan><tspan x="595">6</tspan><tspan x="623">1</tspan><tspan x="651.5">13</tspan><tspan x="680.5">11</tspan><tspan x="709">26</tspan><tspan x="737">141</tspan><tspan x="765">151</tspan><tspan x="797.5">64</tspan><tspan x="834.5">10</tspan><tspan x="872">2213</tspan><tspan x="1109">3</tspan><tspan x="1335">1</tspan><tspan x="1361.5">2</tspan><tspan x="1560">1</tspan><tspan x="1587.5">18</tspan><tspan x="1791">9</tspan><tspan x="1814.5">4</tspan><tspan x="1837.5">3</tspan></text>
<text y="655" class="gy"><tspan x="981">2</tspan><tspan x="1182.5">1</tspan><tspan x="1435.5">1</tspan><tspan x="1485.5">7</tspan><tspan x="1691">1</tspan><tspan x="1742.5">2</tspan><tspan x="1908.5">2</tspan><tspan x="1931.5">7</tspan><tspan x="1954.5">5</tspan></text>
<text y="677" class="tn"><tspan x="81.5">2285</tspan><tspan x="118.5">736</tspan><tspan x="155.5">654</tspan><tspan x="188">43</tspan><tspan x="245">15</tspan><tspan x="273.5">31</tspan><tspan x="302">8</tspan><tspan x="330">48</tspan><tspan x="358.5">5</tspan><tspan x="387.5">23</tspan><tspan x="415.5">3</tspan><tspan x="443">19</tspan><tspan x="468.5">6</tspan><tspan x="491">4</tspan><tspan x="515">1</tspan><tspan x="540.5">16</tspan><tspan x="567">9</tspan><tspan x="595">7</tspan><tspan x="623">2</tspan><tspan x="651.5">14</tspan><tspan x="680.5">12</tspan><tspan x="709">27</tspan><tspan x="737">142</tspan><tspan x="765">152</tspan><tspan x="797.5">65</tspan><tspan x="834.5">11</tspan><tspan x="872">2214</tspan><tspan x="1056.5">1</tspan><tspan x="1307.5">1</tspan><tspan x="1361.5">3</tspan><tspan x="1560">2</tspan><tspan x="1587.5">19</tspan><tspan x="1814.5">5</tspan><tspan x="1837.5">4</tspan><tspan x="1861">1</tspan></text>
<text y="677" class="gy"><tspan x="928.5">1</tspan><tspan x="1182.5">2</tspan><tspan x="1435.5">2</tspan><tspan x="1460.5">1</tspan><tspan x="1691">2</tspan><tspan x="1742.5">3</tspan><tspan x="1886">1</tspan><tspan x="1908.5">3</tspan><tspan x="1931.5">8</tspan><tspan x="1954.5">6</tspan></text>
<text y="699" class="tn"><tspan x="81.5">2286</tspan><tspan x="118.5">737</tspan><tspan x="155.5">655</tspan><tspan x="188">44</tspan><tspan x="216.5">1</tspan><tspan x="245">16</tspan><tspan x="273.5">32</tspan><tspan x="302">9</tspan><tspan x="330">49</tspan><tspan x="358.5">6</tspan><tspan x="387.5">24</tspan><tspan x="415.5">4</tspan><tspan x="443">20</tspan><tspan x="468.5">7</tspan><tspan x="491">5</tspan><tspan x="515">2</tspan><tspan x="540.5">17</tspan><tspan x="567">10</tspan><tspan x="595">8</tspan><tspan x="623">3</tspan><tspan x="651.5">15</tspan><tspan x="709">28</tspan><tspan x="737">143</tspan><tspan x="765">153</tspan><tspan x="797.5">66</tspan><tspan x="834.5">12</tspan><tspan x="872">2215</tspan><tspan x="1109">1</tspan><tspan x="1335">1</tspan><tspan x="1361.5">4</tspan><tspan x="1587.5">20</tspan><tspan x="1616">1</tspan><tspan x="1791">1</tspan><tspan x="1837.5">5</tspan><tspan x="1861">2</tspan></text>
<text y="699" class="gy"><tspan x="981">1</tspan><tspan x="1182.5">3</tspan><tspan x="1460.5">2</tspan><tspan x="1485.5">1</tspan><tspan x="1716.5">1</tspan><tspan x="1742.5">4</tspan><tspan x="1886">2</tspan><tspan x="1931.5">9</tspan><tspan x="1954.5">7</tspan></text>
<text y="721" class="tn"><tspan x="81.5">2287</tspan><tspan x="118.5">738</tspan><tspan x="155.5">656</tspan><tspan x="188">45</tspan><tspan x="216.5">2</tspan><tspan x="245">17</tspan><tspan x="273.5">33</tspan><tspan x="302">10</tspan><tspan x="330">50</tspan><tspan x="358.5">7</tspan><tspan x="387.5">25</tspan><tspan x="415.5">5</tspan><tspan x="443">21</tspan><tspan x="468.5">8</tspan><tspan x="491">6</tspan><tspan x="540.5">18</tspan><tspan x="567">11</tspan><tspan x="595">9</tspan><tspan x="623">4</tspan><tspan x="651.5">16</tspan><tspan x="680.5">1</tspan><tspan x="709">29</tspan><tspan x="737">144</tspan><tspan x="765">154</tspan><tspan x="797.5">67</tspan><tspan x="834.5">13</tspan><tspan x="872">2216</tspan><tspan x="1109">2</tspan><tspan x="1335">2</tspan><tspan x="1361.5">5</tspan><tspan x="1560">1</tspan><tspan x="1587.5">21</tspan><tspan x="1791">2</tspan><tspan x="1814.5">1</tspan><tspan x="1837.5">6</tspan></text>
<text y="721" class="gy"><tspan x="981">2</tspan><tspan x="1182.5">4</tspan><tspan x="1435.5">1</tspan><tspan x="1485.5">2</tspan><tspan x="1691">1</tspan><tspan x="1742.5">5</tspan><tspan x="1908.5">1</tspan><tspan x="1931.5">10</tspan><tspan x="1954.5">8</tspan></text>
<text y="743" class="tn"><tspan x="81.5">2288</tspan><tspan x="118.5">739</tspan><tspan x="155.5">657</tspan><tspan x="188">46</tspan><tspan x="216.5">3</tspan><tspan x="273.5">34</tspan><tspan x="302">11</tspan><tspan x="330">51</tspan><tspan x="358.5">8</tspan><tspan x="387.5">26</tspan><tspan x="415.5">6</tspan><tspan x="443">22</tspan><tspan x="468.5">9</tspan><tspan x="491">7</tspan><tspan x="515">1</tspan><tspan x="540.5">19</tspan><tspan x="567">12</tspan><tspan x="595">10</tspan><tspan x="623">5</tspan><tspan x="651.5">17</tspan><tspan x="680.5">2</tspan><tspan x="709">30</tspan><tspan x="737">145</tspan><tspan x="765">155</tspan><tspan x="797.5">68</tspan><tspan x="834.5">14</tspan><tspan x="872">2217</tspan><tspan x="1109">3</tspan><tspan x="1307.5">1</tspan><tspan x="1335">3</tspan><tspan x="1560">2</tspan><tspan x="1587.5">22</tspan><tspan x="1791">3</tspan><tspan x="1837.5">7</tspan><tspan x="1861">1</tspan></text>
<text y="743" class="gy"><tspan x="928.5">1</tspan><tspan x="1233.5">1</tspan><tspan x="1435.5">2</tspan><tspan x="1460.5">1</tspan><tspan x="1716.5">1</tspan><tspan x="1742.5">6</tspan><tspan x="1908.5">2</tspan><tspan x="1931.5">11</tspan><tspan x="1954.5">9</tspan></text>
<text y="765" class="tn"><tspan x="81.5">2289</tspan><tspan x="118.5">740</tspan><tspan x="155.5">658</tspan><tspan x="188">47</tspan><tspan x="216.5">4</tspan><tspan x="245">1</tspan><tspan x="273.5">35</tspan><tspan x="302">12</tspan><tspan x="330">52</tspan><tspan x="358.5">9</tspan><tspan x="387.5">27</tspan><tspan x="415.5">7</tspan><tspan x="443">23</tspan><tspan x="468.5">10</tspan><tspan x="491">8</tspan><tspan x="515">2</tspan><tspan x="540.5">20</tspan><tspan x="567">13</tspan><tspan x="595">11</tspan><tspan x="623">6</tspan><tspan x="651.5">18</tspan><tspan x="680.5">3</tspan><tspan x="709">31</tspan><tspan x="737">146</tspan><tspan x="797.5">69</tspan><tspan x="834.5">15</tspan><tspan x="872">2218</tspan><tspan x="1056.5">1</tspan><tspan x="1335">4</tspan><tspan x="1361.5">1</tspan><tspan x="1587.5">23</tspan><tspan x="1616">1</tspan><tspan x="1814.5">1</tspan><tspan x="1837.5">8</tspan><tspan x="1861">2</tspan></text>
<text y="765" class="gy"><tspan x="981">1</tspan><tspan x="1182.5">1</tspan><tspan x="1460.5">2</tspan><tspan x="1485.5">1</tspan><tspan x="1691">1</tspan><tspan x="1742.5">7</tspan><tspan x="1886">1</tspan><tspan x="1908.5">3</tspan><tspan x="1931.5">12</tspan><tspan x="1954.5">10</tspan></text>
<text y="787" class="tn"><tspan x="81.5">2290</tspan><tspan x="118.5">741</tspan><tspan x="155.5">659</tspan><tspan x="188">48</tspan><tspan x="216.5">5</tspan><tspan x="245">2</tspan><tspan x="273.5">36</tspan><tspan x="330">53</tspan><tspan x="358.5">10</tspan><tspan x="387.5">28</tspan><tspan x="415.5">8</tspan><tspan x="443">24</tspan><tspan x="468.5">11</tspan><tspan x="491">9</tspan><tspan x="515">3</tspan><tspan x="540.5">21</tspan><tspan x="567">14</tspan><tspan x="595">12</tspan><tspan x="623">7</tspan><tspan x="651.5">19</tspan><tspan x="680.5">4</tspan><tspan x="709">32</tspan><tspan x="737">147</tspan><tspan x="765">1</tspan><tspan x="797.5">70</tspan><tspan x="834.5">16</tspan><tspan x="872">2219</tspan><tspan x="1109">1</tspan><tspan x="1307.5">1</tspan><tspan x="1361.5">2</tspan><tspan x="1560">1</tspan><tspan x="1587.5">24</tspan><tspan x="1791">1</tspan><tspan x="1814.5">2</tspan><tspan x="1837.5">9</tspan></text>
<text y="787" class="gy"><tspan x="928.5">1</tspan><tspan x="1233.5">1</tspan><tspan x="1435.5">1</tspan><tspan x="1460.5">3</tspan><tspan x="1691">2</tspan><tspan x="1716.5">1</tspan><tspan x="1886">2</tspan><tspan x="1908.5">4</tspan><tspan x="1954.5">11</tspan></text>
<text y="809" class="tn"><tspan x="81.5">2291</tspan><tspan x="118.5">742</tspan><tspan x="155.5">660</tspan><tspan x="188">49</tspan><tspan x="216.5">6</tspan><tspan x="245">3</tspan><tspan x="302">1</tspan><tspan x="330">54</tspan><tspan x="358.5">11</tspan><tspan x="387.5">29</tspan><tspan x="415.5">9</tspan><tspan x="443">25</tspan><tspan x="468.5">12</tspan><tspan x="491">10</tspan><tspan x="515">4</tspan><tspan x="540.5">22</tspan><tspan x="567">15</tspan><tspan x="595">13</tspan><tspan x="623">8</tspan><tspan x="651.5">20</tspan><tspan x="680.5">5</tspan><tspan x="709">33</tspan><tspan x="737">148</tspan><tspan x="765">2</tspan><tspan x="797.5">71</tspan><tspan x="834.5">17</tspan><tspan x="872">2220</tspan><tspan x="1056.5">1</tspan><tspan x="1335">1</tspan><tspan x="1361.5">3</tspan><tspan x="1560">2</tspan><tspan x="1587.5">25</tspan><tspan x="1791">2</tspan><tspan x="1814.5">3</tspan><tspan x="1861">1</tspan></text>
<text y="809" class="gy"><tspan x="928.5">2</tspan><tspan x="1182.5">1</tspan><tspan x="1435.5">2</tspan><tspan x="1460.5">4</tspan><tspan x="1691">3</tspan><tspan x="1742.5">1</tspan><tspan x="1886">3</tspan><tspan x="1931.5">1</tspan><tspan x="1954.5">12</tspan></text>
<text y="831" class="tn"><tspan x="81.5">2292</tspan><tspan x="118.5">743</tspan><tspan x="155.5">661</tspan><tspan x="188">50</tspan><tspan x="216.5">7</tspan><tspan x="245">4</tspan><tspan x="273.5">1</tspan><tspan x="302">2</tspan><tspan x="330">55</tspan><tspan x="358.5">12</tspan><tspan x="387.5">30</tspan><tspan x="415.5">10</tspan><tspan x="443">26</tspan><tspan x="491">11</tspan><tspan x="515">5</tspan><tspan x="540.5">23</tspan><tspan x="567">16</tspan><tspan x="595">14</tspan><tspan x="623">9</tspan><tspan x="651.5">21</tspan><tspan x="680.5">6</tspan><tspan x="709">34</tspan><tspan x="737">149</tspan><tspan x="765">3</tspan><tspan x="797.5">72</tspan><tspan x="834.5">18</tspan><tspan x="872">2221</tspan><tspan x="1109">1</tspan><tspan x="1307.5">1</tspan><tspan x="1361.5">4</tspan><tspan x="1587.5">26</tspan><tspan x="1616">1</tspan><tspan x="1791">3</tspan><tspan x="1837.5">1</tspan><tspan x="1861">2</tspan></text>
<text y="831" class="gy"><tspan x="928.5">3</tspan><tspan x="1233.5">1</tspan><tspan x="1435.5">3</tspan><tspan x="1485.5">1</tspan><tspan x="1691">4</tspan><tspan x="1742.5">2</tspan><tspan x="1886">4</tspan><tspan x="1908.5">1</tspan><tspan x="1931.5">2</tspan></text>
<text y="853" class="tn"><tspan x="81.5">2293</tspan><tspan x="118.5">744</tspan><tspan x="155.5">662</tspan><tspan x="188">51</tspan><tspan x="216.5">8</tspan><tspan x="245">5</tspan><tspan x="273.5">2</tspan><tspan x="302">3</tspan><tspan x="330">56</tspan><tspan x="358.5">13</tspan><tspan x="387.5">31</tspan><tspan x="415.5">11</tspan><tspan x="443">27</tspan><tspan x="468.5">1</tspan><tspan x="491">12</tspan><tspan x="515">6</tspan><tspan x="567">17</tspan><tspan x="595">15</tspan><tspan x="623">10</tspan><tspan x="651.5">22</tspan><tspan x="680.5">7</tspan><tspan x="709">35</tspan><tspan x="737">150</tspan><tspan x="765">4</tspan><tspan x="797.5">73</tspan><tspan x="834.5">19</tspan><tspan x="872">2222</tspan><tspan x="1056.5">1</tspan><tspan x="1307.5">2</tspan><tspan x="1361.5">5</tspan><tspan x="1587.5">27</tspan><tspan x="1616">2</tspan><tspan x="1814.5">1</tspan><tspan x="1837.5">2</tspan><tspan x="1861">3</tspan></text>
<text y="853" class="gy"><tspan x="981">1</tspan><tspan x="1182.5">1</tspan><tspan x="1435.5">4</tspan><tspan x="1485.5">2</tspan><tspan x="1691">5</tspan><tspan x="1716.5">1</tspan><tspan x="1886">5</tspan><tspan x="1931.5">3</tspan><tspan x="1954.5">1</tspan></text>
<text y="875" class="tn"><tspan x="81.5">2294</tspan><tspan x="118.5">745</tspan><tspan x="155.5">663</tspan><tspan x="188">52</tspan><tspan x="216.5">9</tspan><tspan x="273.5">3</tspan><tspan x="302">4</tspan><tspan x="330">57</tspan><tspan x="358.5">14</tspan><tspan x="387.5">32</tspan><tspan x="415.5">12</tspan><tspan x="443">28</tspan><tspan x="468.5">2</tspan><tspan x="491">13</tspan><tspan x="515">7</tspan><tspan x="540.5">1</tspan><tspan x="567">18</tspan><tspan x="595">16</tspan><tspan x="623">11</tspan><tspan x="651.5">23</tspan><tspan x="680.5">8</tspan><tspan x="709">36</tspan><tspan x="737">151</tspan><tspan x="765">5</tspan><tspan x="797.5">74</tspan><tspan x="834.5">20</tspan><tspan x="872">2223</tspan><tspan x="1109">1</tspan><tspan x="1307.5">3</tspan><tspan x="1335">1</tspan><tspan x="1560">1</tspan><tspan x="1587.5">28</tspan><tspan x="1791">1</tspan><tspan x="1837.5">3</tspan><tspan x="1861">4</tspan></text>
<text y="875" class="gy"><tspan x="928.5">1</tspan><tspan x="1233.5">1</tspan><tspan x="1435.5">5</tspan><tspan x="1460.5">1</tspan><tspan x="1716.5">2</tspan><tspan x="1742.5">1</tspan><tspan x="1908.5">1</tspan><tspan x="1931.5">4</tspan><tspan x="1954.5">2</tspan></text>
</g>
<g id="connectors">
<polyline class="rl" points="273.5,-11 515,11 358.5,33 387.5,55 709,77 415.5,99 515,121 540.5,143 387.5,165 567,187 651.5,209 443,231 443,253 245,275 567,297 540.5,319 245,341 651.5,363 595,385 680.5,407 834.5,429 216.5,451 567,473 302,495 595,517 468.5,539 358.5,561 491,583 415.5,605 623,627 515,649 216.5,671 680.5,693 515,715 245,737 765,759 302,781 273.5,803 468.5,825 540.5,847 245,869"/>
<polyline class="bl" points="981,-11 928.5,11 981,33 981,55 928.5,77 981,99 928.5,121 928.5,143 981,165 928.5,187 928.5,209 981,231 981,253 981,275 928.5,297 928.5,319 981,341 928.5,363 928.5,385 928.5,407 928.5,429 981,451 928.5,473 981,495 928.5,517 981,539 981,561 928.5,583 981,605 928.5,627 928.5,649 981,671 928.5,693 928.5,715 981,737 928.5,759 981,781 981,803 981,825 928.5,847 981,869"/>
<polyline class="rl" points="1109,-11 1056.5,11 1056.5,33 1109,55 1109,77 1056.5,99 1056.5,121 1109,143 1109,165 1056.5,187 1109,209 1109,231 1109,253 1056.5,275 1056.5,297 1109,319 1056.5,341 1109,363 1109,385 1056.5,407 1109,429 1109,451 1056.5,473 1056.5,495 1109,517 1056.5,539 1056.5,561 1109,583 1056.5,605 1056.5,627 1056.5,649 1109,671 1056.5,693 1056.5,715 1056.5,737 1109,759 1056.5,781 1109,803 1056.5,825 1109,847 1056.5,869"/>
<polyline class="bl" points="1233.5,-11 1233.5,77 1182.5,99 1233.5,121 1233.5,165 1182.5,187 1233.5,209 1233.5,253 1182.5,275 1182.5,297 1233.5,319 1182.5,341 1233.5,363 1233.5,451 1182.5,473 1182.5,495 1233.5,517 1182.5,539 1233.5,561 1233.5,583 1182.5,605 1182.5,627 1233.5,649 1233.5,715 1182.5,737 1233.5,759 1182.5,781 1233.5,803 1182.5,825 1233.5,847 1182.5,869"/>
<polyline class="rl" points="1307.5,-11 1307.5,33 1335,55 1335,77 1361.5,99 1307.5,121 1335,143 1335,165 1361.5,187 1361.5,209 1307.5,231 1307.5,253 1361.5,275 1361.5,297 1335,319 1361.5,341 1361.5,363 1307.5,385 1307.5,407 1361.5,429 1335,451 1361.5,473 1335,495 1307.5,517 1335,539 1307.5,561 1361.5,583 1361.5,605 1335,627 1307.5,649 1335,671 1307.5,693 1307.5,715 1361.5,737 1307.5,759 1335,781 1307.5,803 1335,825 1335,847 1361.5,869"/>
<polyline class="bl" points="1485.5,-11 1460.5,11 1460.5,55 1435.5,77 1460.5,99 1460.5,187 1435.5,209 1460.5,231 1460.5,253 1485.5,275 1460.5,297 1460.5,319 1485.5,341 1435.5,363 1435.5,429 1485.5,451 1460.5,473 1485.5,495 1435.5,517 1460.5,539 1460.5,605 1435.5,627 1460.5,649 1485.5,671 1435.5,693 1460.5,715 1485.5,737 1435.5,759 1485.5,781 1485.5,803 1460.5,825 1460.5,847 1485.5,869 1460.5,891"/>
<polyline class="rl" points="1616,-11 1560,11 1616,33 1560,55 1560,77 1616,99 1560,121 1560,143 1616,165 1560,187 1560,209 1616,231 1587.5,253 1616,275 1560,297 1616,319 1616,341 1560,363 1616,385 1560,407 1560,429 1616,451 1560,473 1616,495 1560,517 1616,539 1616,561 1560,583 1616,605 1560,627 1616,649 1616,671 1560,693 1616,715 1616,737 1560,759 1616,781 1616,803 1560,825 1560,847 1616,869"/>
<polyline class="bl" points="1716.5,-11 1716.5,11 1742.5,33 1691.5,55 1716.5,77 1742.5,99 1716.5,121 1742.5,143 1691.5,165 1716.5,187 1742.5,209 1691.5,231 1691.5,275 1716.5,297 1742.5,319 1691.5,341 1742.5,363 1742.5,385 1691.5,407 1716.5,429 1716.5,473 1742.5,495 1742.5,517 1716.5,539 1742.5,561 1691.5,583 1742.5,605 1691.5,627 1716.5,649 1716.5,671 1691.5,693 1716.5,715 1691.5,737 1716.5,759 1742.5,781 1716.5,803 1716.5,825 1742.5,847 1691.5,869 1742.5,891"/>
<polyline class="rl" points="1837.5,-11 1861,11 1814.5,33 1837.5,55 1837.5,77 1861,99 1861,121 1791.5,143 1837.5,165 1814.5,187 1791.5,209 1791.5,253 1814.5,275 1814.5,297 1791.5,319 1814.5,341 1791.5,363 1837.5,385 1814.5,407 1837.5,429 1791.5,451 1814.5,473 1861,495 1837.5,517 1814.5,539 1814.5,561 1837.5,583 1861,605 1861,649 1791.5,671 1814.5,693 1861,715 1814.5,737 1791.5,759 1861,781 1837.5,803 1814.5,825 1791.5,847 1814.5,869"/>
<polyline class="bl" points="1908.5,-11 1887,11 1977.5,33 1887,55 1931.5,77 1908.5,99 1887,121 1908.5,143 1887,165 1931.5,187 1887,209 1931.5,231 1931.5,253 1887,275 1931.5,297 1908.5,319 1887,341 1887,363 1954.5,385 1908.5,407 1908.5,429 1977.5,451 1931.5,473 1931.5,495 1954.5,517 1954.5,539 1977.5,561 1977.5,583 1908.5,605 1977.5,627 1887,649 1977.5,671 1908.5,693 1887,715 1887,737 1977.5,759 1931.5,781 1908.5,803 1954.5,825 1908.5,847 1887,869"/>
</g>
<g id="hits" class="f" fill="#fff">
<use href="#s15" y="0"/><use href="#dD" y="0"/><use href="#jJ" y="0"/><use href="#zH" y="0"/><use href="#m30" y="0"/><use href="#qZ" y="0"/><use href="#pS" y="0"/><use href="#aB" y="0"/><use href="#m43" y="0"/><use href="#m50" y="0"/>
<use href="#s9" y="22"/><use href="#dX" y="22"/><use href="#jJ" y="22"/><use href="#zH" y="22"/><use href="#m30" y="22"/><use href="#qZ" y="22"/><use href="#pJ" y="22"/><use href="#aC" y="22"/><use href="#m41" y="22"/>
<use href="#s10" y="44"/><use href="#dX" y="44"/><use href="#jO" y="44"/><use href="#zH" y="44"/><use href="#m31" y="44"/><use href="#qZ" y="44"/><use href="#pS" y="44"/><use href="#aA" y="44"/><use href="#m42" y="44"/><use href="#m50" y="44"/>
<use href="#s22" y="66"/><use href="#dD" y="66"/><use href="#jO" y="66"/><use href="#zH" y="66"/><use href="#m31" y="66"/><use href="#qD" y="66"/><use href="#pS" y="66"/><use href="#aB" y="66"/><use href="#m42" y="66"/><use href="#m52" y="66"/>
<use href="#s11" y="88"/><use href="#dX" y="88"/><use href="#jJ" y="88"/><use href="#zZ" y="88"/><use href="#m32" y="88"/><use href="#qZ" y="88"/><use href="#pJ" y="88"/><use href="#aC" y="88"/><use href="#m43" y="88"/><use href="#m51" y="88"/>
<use href="#s15" y="110"/><use href="#dD" y="110"/><use href="#jJ" y="110"/><use href="#zH" y="110"/><use href="#m30" y="110"/><use href="#qZ" y="110"/><use href="#pS" y="110"/><use href="#aB" y="110"/><use href="#m43" y="110"/><use href="#m50" y="110"/>
<use href="#s16" y="132"/><use href="#dD" y="132"/><use href="#jO" y="132"/><use href="#zH" y="132"/><use href="#m31" y="132"/><use href="#qZ" y="132"/><use href="#pS" y="132"/><use href="#aC" y="132"/><use href="#m40" y="132"/><use href="#m51" y="132"/>
<use href="#s10" y="154"/><use href="#dX" y="154"/><use href="#jO" y="154"/><use href="#zH" y="154"/><use href="#m31" y="154"/><use href="#qZ" y="154"/><use href="#pJ" y="154"/><use href="#aA" y="154"/><use href="#m42" y="154"/><use href="#m50" y="154"/>
<use href="#s17" y="176"/><use href="#dD" y="176"/><use href="#jJ" y="176"/><use href="#zZ" y="176"/><use href="#m32" y="176"/><use href="#qZ" y="176"/><use href="#pS" y="176"/><use href="#aB" y="176"/><use href="#m41" y="176"/><use href="#m52" y="176"/>
<use href="#s20" y="198"/><use href="#dD" y="198"/><use href="#jO" y="198"/><use href="#zH" y="198"/><use href="#m32" y="198"/><use href="#qD" y="198"/><use href="#pS" y="198"/><use href="#aC" y="198"/><use href="#m40" y="198"/><use href="#m50" y="198"/>
<use href="#s12" y="220"/><use href="#dX" y="220"/><use href="#jO" y="220"/><use href="#zH" y="220"/><use href="#m30" y="220"/><use href="#qZ" y="220"/><use href="#pJ" y="220"/><use href="#aA" y="220"/><use href="#m40" y="220"/><use href="#m52" y="220"/>
<use href="#s12" y="242"/><use href="#dX" y="242"/><use href="#jO" y="242"/><use href="#zH" y="242"/><use href="#m30" y="242"/><use href="#qZ" y="242"/><use href="#pP" y="242"/><use href="#aA" y="242"/><use href="#m40" y="242"/><use href="#m52" y="242"/>
<use href="#s5" y="264"/><use href="#dX" y="264"/><use href="#jJ" y="264"/><use href="#zZ" y="264"/><use href="#m32" y="264"/><use href="#qX" y="264"/><use href="#pJ" y="264"/><use href="#aA" y="264"/><use href="#m41" y="264"/><use href="#m50" y="264"/>
<use href="#s17" y="286"/><use href="#dD" y="286"/><use href="#jJ" y="286"/><use href="#zZ" y="286"/><use href="#m32" y="286"/><use href="#qZ" y="286"/><use href="#pS" y="286"/><use href="#aB" y="286"/><use href="#m41" y="286"/><use href="#m52" y="286"/>
<use href="#s16" y="308"/><use href="#dD" y="308"/><use href="#jO" y="308"/><use href="#zH" y="308"/><use href="#m31" y="308"/><use href="#qZ" y="308"/><use href="#pJ" y="308"/><use href="#aC" y="308"/><use href="#m40" y="308"/><use href="#m51" y="308"/>
<use href="#s5" y="330"/><use href="#dX" y="330"/><use href="#jJ" y="330"/><use href="#zZ" y="330"/><use href="#m32" y="330"/><use href="#qX" y="330"/><use href="#pJ" y="330"/><use href="#aA" y="330"/><use href="#m41" y="330"/><use href="#m50" y="330"/>
<use href="#s20" y="352"/><use href="#dD" y="352"/><use href="#jO" y="352"/><use href="#zH" y="352"/><use href="#m32" y="352"/><use href="#qD" y="352"/><use href="#pS" y="352"/><use href="#aC" y="352"/><use href="#m40" y="352"/><use href="#m50" y="352"/>
<use href="#s18" y="374"/><use href="#dD" y="374"/><use href="#jO" y="374"/><use href="#zH" y="374"/><use href="#m30" y="374"/><use href="#qD" y="374"/><use href="#pJ" y="374"/><use href="#aC" y="374"/><use href="#m42" y="374"/><use href="#m53" y="374"/>
<use href="#s21" y="396"/><use href="#dD" y="396"/><use href="#jJ" y="396"/><use href="#zH" y="396"/><use href="#m30" y="396"/><use href="#qD" y="396"/><use href="#pS" y="396"/><use href="#aA" y="396"/><use href="#m41" y="396"/><use href="#m51" y="396"/>
<use href="#s26" y="418"/><use href="#dD" y="418"/><use href="#jO" y="418"/><use href="#zH" y="418"/><use href="#m32" y="418"/><use href="#qD" y="418"/><use href="#pS" y="418"/><use href="#aB" y="418"/><use href="#m42" y="418"/><use href="#m51" y="418"/>
<use href="#s4" y="440"/><use href="#dX" y="440"/><use href="#jO" y="440"/><use href="#zH" y="440"/><use href="#m31" y="440"/><use href="#qX" y="440"/><use href="#pJ" y="440"/><use href="#aB" y="440"/><use href="#m40" y="440"/>
<use href="#s17" y="462"/><use href="#dD" y="462"/><use href="#jJ" y="462"/><use href="#zZ" y="462"/><use href="#m32" y="462"/><use href="#qZ" y="462"/><use href="#pS" y="462"/><use href="#aB" y="462"/><use href="#m41" y="462"/><use href="#m52" y="462"/>
<use href="#s7" y="484"/><use href="#dX" y="484"/><use href="#jJ" y="484"/><use href="#zZ" y="484"/><use href="#m31" y="484"/><use href="#qX" y="484"/><use href="#pJ" y="484"/><use href="#aC" y="484"/><use href="#m43" y="484"/><use href="#m52" y="484"/>
<use href="#s18" y="506"/><use href="#dD" y="506"/><use href="#jO" y="506"/><use href="#zH" y="506"/><use href="#m30" y="506"/><use href="#qD" y="506"/><use href="#pS" y="506"/><use href="#aC" y="506"/><use href="#m42" y="506"/><use href="#m53" y="506"/>
<use href="#s13" y="528"/><use href="#dX" y="528"/><use href="#jJ" y="528"/><use href="#zZ" y="528"/><use href="#m31" y="528"/><use href="#qZ" y="528"/><use href="#pJ" y="528"/><use href="#aB" y="528"/><use href="#m41" y="528"/><use href="#m53" y="528"/>
<use href="#s9" y="550"/><use href="#dX" y="550"/><use href="#jJ" y="550"/><use href="#zH" y="550"/><use href="#m30" y="550"/><use href="#qZ" y="550"/><use href="#pJ" y="550"/><use href="#aC" y="550"/><use href="#m41" y="550"/>
<use href="#s14" y="572"/><use href="#dD" y="572"/><use href="#jO" y="572"/><use href="#zH" y="572"/><use href="#m32" y="572"/><use href="#qZ" y="572"/><use href="#pS" y="572"/><use href="#aA" y="572"/><use href="#m42" y="572"/>
<use href="#s11" y="594"/><use href="#dX" y="594"/><use href="#jJ" y="594"/><use href="#zZ" y="594"/><use href="#m32" y="594"/><use href="#qZ" y="594"/><use href="#pJ" y="594"/><use href="#aC" y="594"/><use href="#m43" y="594"/><use href="#m51" y="594"/>
<use href="#s19" y="616"/><use href="#dD" y="616"/><use href="#jJ" y="616"/><use href="#zZ" y="616"/><use href="#m31" y="616"/><use href="#qD" y="616"/><use href="#pS" y="616"/><use href="#aA" y="616"/><use href="#m43" y="616"/>
<use href="#s15" y="638"/><use href="#dD" y="638"/><use href="#jJ" y="638"/><use href="#zH" y="638"/><use href="#m30" y="638"/><use href="#qZ" y="638"/><use href="#pJ" y="638"/><use href="#aB" y="638"/><use href="#m43" y="638"/><use href="#m50" y="638"/>
<use href="#s4" y="660"/><use href="#dX" y="660"/><use href="#jO" y="660"/><use href="#zH" y="660"/><use href="#m31" y="660"/><use href="#qX" y="660"/><use href="#pJ" y="660"/><use href="#aB" y="660"/><use href="#m40" y="660"/>
<use href="#s21" y="682"/><use href="#dD" y="682"/><use href="#jJ" y="682"/><use href="#zH" y="682"/><use href="#m30" y="682"/><use href="#qD" y="682"/><use href="#pS" y="682"/><use href="#aA" y="682"/><use href="#m41" y="682"/><use href="#m51" y="682"/>
<use href="#s15" y="704"/><use href="#dD" y="704"/><use href="#jJ" y="704"/><use href="#zH" y="704"/><use href="#m30" y="704"/><use href="#qZ" y="704"/><use href="#pJ" y="704"/><use href="#aB" y="704"/><use href="#m43" y="704"/><use href="#m50" y="704"/>
<use href="#s5" y="726"/><use href="#dX" y="726"/><use href="#jJ" y="726"/><use href="#zZ" y="726"/><use href="#m32" y="726"/><use href="#qX" y="726"/><use href="#pJ" y="726"/><use href="#aA" y="726"/><use href="#m41" y="726"/><use href="#m50" y="726"/>
<use href="#s24" y="748"/><use href="#dD" y="748"/><use href="#jO" y="748"/><use href="#zH" y="748"/><use href="#m30" y="748"/><use href="#qD" y="748"/><use href="#pS" y="748"/><use href="#aB" y="748"/><use href="#m40" y="748"/>
<use href="#s7" y="770"/><use href="#dX" y="770"/><use href="#jJ" y="770"/><use href="#zZ" y="770"/><use href="#m31" y="770"/><use href="#qX" y="770"/><use href="#pJ" y="770"/><use href="#aC" y="770"/><use href="#m43" y="770"/><use href="#m52" y="770"/>
<use href="#s6" y="792"/><use href="#dX" y="792"/><use href="#jO" y="792"/><use href="#zH" y="792"/><use href="#m30" y="792"/><use href="#qX" y="792"/><use href="#pJ" y="792"/><use href="#aB" y="792"/><use href="#m42" y="792"/><use href="#m51" y="792"/>
<use href="#s13" y="814"/><use href="#dX" y="814"/><use href="#jJ" y="814"/><use href="#zZ" y="814"/><use href="#m31" y="814"/><use href="#qZ" y="814"/><use href="#pS" y="814"/><use href="#aB" y="814"/><use href="#m41" y="814"/><use href="#m53" y="814"/>
<use href="#s16" y="836"/><use href="#dD" y="836"/><use href="#jO" y="836"/><use href="#zH" y="836"/><use href="#m31" y="836"/><use href="#qZ" y="836"/><use href="#pS" y="836"/><use href="#aC" y="836"/><use href="#m40" y="836"/><use href="#m51" y="836"/>
<use href="#s5" y="858"/><use href="#dX" y="858"/><use href="#jJ" y="858"/><use href="#zZ" y="858"/><use href="#m32" y="858"/><use href="#qX" y="858"/><use href="#pJ" y="858"/><use href="#aA" y="858"/><use href="#m41" y="858"/><use href="#m50" y="858"/>
<use href="#m30" y="880"/><use href="#m32" y="880"/><use href="#qZ" y="880"/><use href="#aC" y="880"/>
</g>
<g id="circles">
<ellipse class="ci" cx="1330.5" cy="846.5" rx="58.5" ry="78.5"/>
<ellipse class="ci" cx="1468" cy="836" rx="57" ry="88"/>
<ellipse class="ci" cx="1587" cy="839" rx="69.5" ry="86"/>
<ellipse class="ci" cx="1733.5" cy="848.5" rx="99.5" ry="76.5"/>
</g>
</svg>
